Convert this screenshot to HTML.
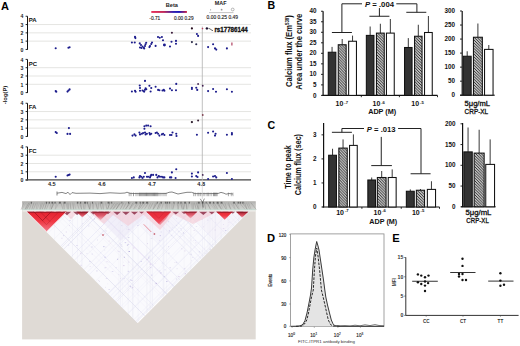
<!DOCTYPE html>
<html><head><meta charset="utf-8"><style>
html,body{margin:0;padding:0;background:#fff;overflow:hidden;width:520px;height:346px;}
svg{display:block;font-family:"Liberation Sans", sans-serif;}
</style></head><body>
<svg width="520" height="346" viewBox="0 0 520 346">
<rect width="520" height="346" fill="#fff"/>
<text x="0.9" y="9.6" font-size="11" font-weight="bold" text-anchor="start" fill="#000"  style="">A</text>
<line x1="28" y1="41.150000000000006" x2="251" y2="41.150000000000006" stroke="#e2e2df" stroke-width="0.9" />
<line x1="28" y1="32.85" x2="251" y2="32.85" stroke="#e2e2df" stroke-width="0.9" />
<line x1="28" y1="24.55" x2="251" y2="24.55" stroke="#e2e2df" stroke-width="0.9" />
<line x1="27.5" y1="16.25" x2="27.5" y2="49.75" stroke="#111" stroke-width="1" />
<line x1="25.6" y1="49.45" x2="27.5" y2="49.45" stroke="#111" stroke-width="0.9" />
<text x="23.4" y="51.650000000000006" font-size="5.2" font-weight="bold" text-anchor="end" fill="#222"  style="">0</text>
<line x1="25.6" y1="41.150000000000006" x2="27.5" y2="41.150000000000006" stroke="#111" stroke-width="0.9" />
<text x="23.4" y="43.35000000000001" font-size="5.2" font-weight="bold" text-anchor="end" fill="#222"  style="">1</text>
<line x1="25.6" y1="32.85" x2="27.5" y2="32.85" stroke="#111" stroke-width="0.9" />
<text x="23.4" y="35.050000000000004" font-size="5.2" font-weight="bold" text-anchor="end" fill="#222"  style="">2</text>
<line x1="25.6" y1="24.55" x2="27.5" y2="24.55" stroke="#111" stroke-width="0.9" />
<text x="23.4" y="26.75" font-size="5.2" font-weight="bold" text-anchor="end" fill="#222"  style="">3</text>
<line x1="25.6" y1="16.25" x2="27.5" y2="16.25" stroke="#111" stroke-width="0.9" />
<text x="23.4" y="18.45" font-size="5.2" font-weight="bold" text-anchor="end" fill="#222"  style="">4</text>
<text x="28.7" y="22.45" font-size="6.0" font-weight="bold" text-anchor="start" fill="#111"  style="">PA</text>
<line x1="28" y1="84.3" x2="251" y2="84.3" stroke="#e2e2df" stroke-width="0.9" />
<line x1="28" y1="76.0" x2="251" y2="76.0" stroke="#e2e2df" stroke-width="0.9" />
<line x1="28" y1="67.69999999999999" x2="251" y2="67.69999999999999" stroke="#e2e2df" stroke-width="0.9" />
<line x1="27.5" y1="59.4" x2="27.5" y2="92.89999999999999" stroke="#111" stroke-width="1" />
<line x1="25.6" y1="92.6" x2="27.5" y2="92.6" stroke="#111" stroke-width="0.9" />
<text x="23.4" y="94.8" font-size="5.2" font-weight="bold" text-anchor="end" fill="#222"  style="">0</text>
<line x1="25.6" y1="84.3" x2="27.5" y2="84.3" stroke="#111" stroke-width="0.9" />
<text x="23.4" y="86.5" font-size="5.2" font-weight="bold" text-anchor="end" fill="#222"  style="">1</text>
<line x1="25.6" y1="76.0" x2="27.5" y2="76.0" stroke="#111" stroke-width="0.9" />
<text x="23.4" y="78.2" font-size="5.2" font-weight="bold" text-anchor="end" fill="#222"  style="">2</text>
<line x1="25.6" y1="67.69999999999999" x2="27.5" y2="67.69999999999999" stroke="#111" stroke-width="0.9" />
<text x="23.4" y="69.89999999999999" font-size="5.2" font-weight="bold" text-anchor="end" fill="#222"  style="">3</text>
<line x1="25.6" y1="59.39999999999999" x2="27.5" y2="59.39999999999999" stroke="#111" stroke-width="0.9" />
<text x="23.4" y="61.599999999999994" font-size="5.2" font-weight="bold" text-anchor="end" fill="#222"  style="">4</text>
<text x="28.7" y="65.6" font-size="6.0" font-weight="bold" text-anchor="start" fill="#111"  style="">PC</text>
<line x1="28" y1="128.14999999999998" x2="251" y2="128.14999999999998" stroke="#e2e2df" stroke-width="0.9" />
<line x1="28" y1="119.85" x2="251" y2="119.85" stroke="#e2e2df" stroke-width="0.9" />
<line x1="28" y1="111.54999999999998" x2="251" y2="111.54999999999998" stroke="#e2e2df" stroke-width="0.9" />
<line x1="27.5" y1="103.25" x2="27.5" y2="136.75" stroke="#111" stroke-width="1" />
<line x1="25.6" y1="136.45" x2="27.5" y2="136.45" stroke="#111" stroke-width="0.9" />
<text x="23.4" y="138.64999999999998" font-size="5.2" font-weight="bold" text-anchor="end" fill="#222"  style="">0</text>
<line x1="25.6" y1="128.14999999999998" x2="27.5" y2="128.14999999999998" stroke="#111" stroke-width="0.9" />
<text x="23.4" y="130.34999999999997" font-size="5.2" font-weight="bold" text-anchor="end" fill="#222"  style="">1</text>
<line x1="25.6" y1="119.85" x2="27.5" y2="119.85" stroke="#111" stroke-width="0.9" />
<text x="23.4" y="122.05" font-size="5.2" font-weight="bold" text-anchor="end" fill="#222"  style="">2</text>
<line x1="25.6" y1="111.54999999999998" x2="27.5" y2="111.54999999999998" stroke="#111" stroke-width="0.9" />
<text x="23.4" y="113.74999999999999" font-size="5.2" font-weight="bold" text-anchor="end" fill="#222"  style="">3</text>
<line x1="25.6" y1="103.24999999999999" x2="27.5" y2="103.24999999999999" stroke="#111" stroke-width="0.9" />
<text x="23.4" y="105.44999999999999" font-size="5.2" font-weight="bold" text-anchor="end" fill="#222"  style="">4</text>
<text x="28.7" y="109.45" font-size="6.0" font-weight="bold" text-anchor="start" fill="#111"  style="">FA</text>
<line x1="28" y1="171.8" x2="251" y2="171.8" stroke="#e2e2df" stroke-width="0.9" />
<line x1="28" y1="163.50000000000003" x2="251" y2="163.50000000000003" stroke="#e2e2df" stroke-width="0.9" />
<line x1="28" y1="155.20000000000002" x2="251" y2="155.20000000000002" stroke="#e2e2df" stroke-width="0.9" />
<line x1="27.5" y1="146.9" x2="27.5" y2="180.40000000000003" stroke="#111" stroke-width="1" />
<line x1="25.6" y1="180.10000000000002" x2="27.5" y2="180.10000000000002" stroke="#111" stroke-width="0.9" />
<text x="23.4" y="182.3" font-size="5.2" font-weight="bold" text-anchor="end" fill="#222"  style="">0</text>
<line x1="25.6" y1="171.8" x2="27.5" y2="171.8" stroke="#111" stroke-width="0.9" />
<text x="23.4" y="174.0" font-size="5.2" font-weight="bold" text-anchor="end" fill="#222"  style="">1</text>
<line x1="25.6" y1="163.50000000000003" x2="27.5" y2="163.50000000000003" stroke="#111" stroke-width="0.9" />
<text x="23.4" y="165.70000000000002" font-size="5.2" font-weight="bold" text-anchor="end" fill="#222"  style="">2</text>
<line x1="25.6" y1="155.20000000000002" x2="27.5" y2="155.20000000000002" stroke="#111" stroke-width="0.9" />
<text x="23.4" y="157.4" font-size="5.2" font-weight="bold" text-anchor="end" fill="#222"  style="">3</text>
<line x1="25.6" y1="146.90000000000003" x2="27.5" y2="146.90000000000003" stroke="#111" stroke-width="0.9" />
<text x="23.4" y="149.10000000000002" font-size="5.2" font-weight="bold" text-anchor="end" fill="#222"  style="">4</text>
<text x="28.7" y="153.1" font-size="6.0" font-weight="bold" text-anchor="start" fill="#111"  style="">FC</text>
<line x1="25.6" y1="179.9" x2="251" y2="179.9" stroke="#444" stroke-width="1.4" />
<text x="51.8" y="186.2" font-size="5.6" font-weight="bold" text-anchor="middle" fill="#222"  style="">4.5</text>
<text x="101.8" y="186.2" font-size="5.6" font-weight="bold" text-anchor="middle" fill="#222"  style="">4.6</text>
<text x="152" y="186.2" font-size="5.6" font-weight="bold" text-anchor="middle" fill="#222"  style="">4.7</text>
<text x="201.2" y="186.2" font-size="5.6" font-weight="bold" text-anchor="middle" fill="#222"  style="">4.8</text>
<line x1="202.3" y1="26.5" x2="202.3" y2="180" stroke="#b0b0b0" stroke-width="0.8" />
<text transform="translate(6.6,95) rotate(-90)" font-size="6.2" font-weight="bold" text-anchor="middle" fill="#222" textLength="18.5" lengthAdjust="spacingAndGlyphs">-log(P)</text>
<text x="171.8" y="6.9" font-size="5.6" font-weight="bold" text-anchor="middle" fill="#222"  style="">Beta</text>
<defs><linearGradient id="gb" x1="0" x2="1" y1="0" y2="0"><stop offset="0" stop-color="#e8305a"/><stop offset="0.35" stop-color="#c02858"/><stop offset="0.62" stop-color="#3020b0"/><stop offset="0.78" stop-color="#1818b8"/><stop offset="0.9" stop-color="#7a1a78"/><stop offset="1" stop-color="#d02040"/></linearGradient></defs>
<rect x="151.3" y="11" width="35.6" height="1.9" fill="url(#gb)" stroke="none" stroke-width="1" />
<text x="149.3" y="20.4" font-size="4.8" font-weight="normal" text-anchor="start" fill="#222" stroke="#222" stroke-width="0.12" style="">-0.71</text>
<text x="174" y="20.4" font-size="4.8" font-weight="normal" text-anchor="start" fill="#222" textLength="19.6" lengthAdjust="spacingAndGlyphs" stroke="#222" stroke-width="0.12" style="">0.00 0.29</text>
<text x="220.7" y="5.4" font-size="5.4" font-weight="bold" text-anchor="middle" fill="#222"  style="">MAF</text>
<circle cx="210.6" cy="9.8" r="0.6" fill="#999" />
<circle cx="221.6" cy="9.7" r="0.9" fill="#999" />
<circle cx="232.7" cy="9.5" r="1.4" fill="none" stroke="#888" stroke-width="0.6"/>
<line x1="209" y1="12.6" x2="233.5" y2="12.6" stroke="#aaa" stroke-width="0.7" />
<text x="206.6" y="19.3" font-size="4.8" font-weight="normal" text-anchor="start" fill="#222" textLength="31.4" lengthAdjust="spacingAndGlyphs" stroke="#222" stroke-width="0.12" style="">0.00 0.25 0.49</text>
<text x="214.4" y="32.1" font-size="6.6" font-weight="bold" text-anchor="start" fill="#111" textLength="33.4" lengthAdjust="spacingAndGlyphs" stroke="#111" stroke-width="0.3" style="">rs17786144</text>
<path d="M208.5,28.4 L210.5,29 L211.5,30.2 L213,30.6" stroke="#222" stroke-width="0.7" fill="none"/>
<circle cx="55.7" cy="48.3" r="1.05" fill="#1c1c8c" />
<circle cx="68.4" cy="47.8" r="1.05" fill="#1c1c8c" />
<circle cx="69.6" cy="47.2" r="1.05" fill="#1c1c8c" />
<circle cx="131.9" cy="42.5" r="1.05" fill="#1c1c8c" />
<circle cx="134.75" cy="42.5" r="1.05" fill="#1c1c8c" />
<circle cx="135" cy="36.9" r="1.05" fill="#1c1c8c" />
<circle cx="135.4" cy="38.1" r="1.05" fill="#1c1c8c" />
<circle cx="139.75" cy="43.4" r="1.05" fill="#1c1c8c" />
<circle cx="140" cy="47.5" r="1.05" fill="#1c1c8c" />
<circle cx="141.5" cy="48" r="1.05" fill="#1c1c8c" />
<circle cx="142.5" cy="46.5" r="1.05" fill="#1c1c8c" />
<circle cx="143.8" cy="47.8" r="1.05" fill="#1c1c8c" />
<circle cx="145" cy="46" r="1.05" fill="#1c1c8c" />
<circle cx="145.5" cy="44.3" r="1.05" fill="#1c1c8c" />
<circle cx="146.2" cy="42.8" r="1.05" fill="#1c1c8c" />
<circle cx="144.2" cy="48.5" r="1.05" fill="#1c1c8c" />
<circle cx="141" cy="45" r="1.05" fill="#1c1c8c" />
<circle cx="149.4" cy="47.1" r="1.05" fill="#1c1c8c" />
<circle cx="150" cy="46" r="1.05" fill="#1c1c8c" />
<circle cx="151.25" cy="44" r="1.05" fill="#1c1c8c" />
<circle cx="152" cy="42.5" r="1.05" fill="#1c1c8c" />
<circle cx="155.6" cy="45.9" r="1.05" fill="#1c1c8c" />
<circle cx="158" cy="37" r="1.05" fill="#1c1c8c" />
<circle cx="159.75" cy="37.75" r="1.05" fill="#1c1c8c" />
<circle cx="161.9" cy="37" r="1.05" fill="#1c1c8c" />
<circle cx="163" cy="40.25" r="1.05" fill="#1c1c8c" />
<circle cx="164.4" cy="45" r="1.05" fill="#1c1c8c" />
<circle cx="170" cy="46.5" r="1.05" fill="#1c1c8c" />
<circle cx="171.5" cy="41.75" r="1.05" fill="#1c1c8c" />
<circle cx="176" cy="40.9" r="1.05" fill="#1c1c8c" />
<circle cx="176" cy="43.75" r="1.05" fill="#1c1c8c" />
<circle cx="196.9" cy="34" r="1.05" fill="#1c1c8c" />
<circle cx="198.1" cy="35.9" r="1.05" fill="#1c1c8c" />
<circle cx="208.1" cy="47.1" r="1.05" fill="#1c1c8c" />
<circle cx="213.1" cy="44.25" r="1.05" fill="#1c1c8c" />
<circle cx="215" cy="48.4" r="1.05" fill="#1c1c8c" />
<circle cx="216.25" cy="49.6" r="1.05" fill="#1c1c8c" />
<circle cx="226.9" cy="48.4" r="1.05" fill="#1c1c8c" />
<circle cx="55.7" cy="91.1" r="1.05" fill="#1c1c8c" />
<circle cx="56.3" cy="91.8" r="1.05" fill="#1c1c8c" />
<circle cx="67.5" cy="91.6" r="1.05" fill="#1c1c8c" />
<circle cx="68.5" cy="90.5" r="1.05" fill="#1c1c8c" />
<circle cx="69.6" cy="89.4" r="1.05" fill="#1c1c8c" />
<circle cx="131.9" cy="91.5" r="1.05" fill="#1c1c8c" />
<circle cx="135" cy="90.75" r="1.05" fill="#1c1c8c" />
<circle cx="135.6" cy="91.75" r="1.05" fill="#1c1c8c" />
<circle cx="139.75" cy="85.5" r="1.05" fill="#1c1c8c" />
<circle cx="140" cy="88" r="1.05" fill="#1c1c8c" />
<circle cx="140" cy="90.75" r="1.05" fill="#1c1c8c" />
<circle cx="142.5" cy="90.5" r="1.05" fill="#1c1c8c" />
<circle cx="143.8" cy="91.2" r="1.05" fill="#1c1c8c" />
<circle cx="145" cy="89.8" r="1.05" fill="#1c1c8c" />
<circle cx="145.6" cy="88.3" r="1.05" fill="#1c1c8c" />
<circle cx="146.3" cy="89.2" r="1.05" fill="#1c1c8c" />
<circle cx="144.2" cy="91.6" r="1.05" fill="#1c1c8c" />
<circle cx="145" cy="80.9" r="1.05" fill="#1c1c8c" />
<circle cx="149.4" cy="85.75" r="1.05" fill="#1c1c8c" />
<circle cx="151.25" cy="88" r="1.05" fill="#1c1c8c" />
<circle cx="150.6" cy="91.5" r="1.05" fill="#1c1c8c" />
<circle cx="155.6" cy="86.75" r="1.05" fill="#1c1c8c" />
<circle cx="158.1" cy="89.9" r="1.05" fill="#1c1c8c" />
<circle cx="159.4" cy="90.25" r="1.05" fill="#1c1c8c" />
<circle cx="162.5" cy="90.5" r="1.05" fill="#1c1c8c" />
<circle cx="163.75" cy="89.9" r="1.05" fill="#1c1c8c" />
<circle cx="164.4" cy="90.75" r="1.05" fill="#1c1c8c" />
<circle cx="170" cy="88.6" r="1.05" fill="#1c1c8c" />
<circle cx="171.9" cy="90.25" r="1.05" fill="#1c1c8c" />
<circle cx="176.25" cy="83.9" r="1.05" fill="#1c1c8c" />
<circle cx="176" cy="90.25" r="1.05" fill="#1c1c8c" />
<circle cx="191.9" cy="87.75" r="1.05" fill="#1c1c8c" />
<circle cx="191.9" cy="89" r="1.05" fill="#1c1c8c" />
<circle cx="196.25" cy="87.75" r="1.05" fill="#1c1c8c" />
<circle cx="197.25" cy="89.9" r="1.05" fill="#1c1c8c" />
<circle cx="208.1" cy="91.1" r="1.05" fill="#1c1c8c" />
<circle cx="213.1" cy="89" r="1.05" fill="#1c1c8c" />
<circle cx="216" cy="91.75" r="1.05" fill="#1c1c8c" />
<circle cx="226.9" cy="89.25" r="1.05" fill="#1c1c8c" />
<circle cx="231.9" cy="91.75" r="1.05" fill="#1c1c8c" />
<circle cx="55.7" cy="132.1" r="1.05" fill="#1c1c8c" />
<circle cx="56.8" cy="133" r="1.05" fill="#1c1c8c" />
<circle cx="68.9" cy="128.1" r="1.05" fill="#1c1c8c" />
<circle cx="67.5" cy="133.9" r="1.05" fill="#1c1c8c" />
<circle cx="70.1" cy="133.9" r="1.05" fill="#1c1c8c" />
<circle cx="144.4" cy="126.25" r="1.05" fill="#1c1c8c" />
<circle cx="146.25" cy="125.6" r="1.05" fill="#1c1c8c" />
<circle cx="148.1" cy="125.6" r="1.05" fill="#1c1c8c" />
<circle cx="150.6" cy="126.25" r="1.05" fill="#1c1c8c" />
<circle cx="144.4" cy="128.75" r="1.05" fill="#1c1c8c" />
<circle cx="132.5" cy="135.6" r="1.05" fill="#1c1c8c" />
<circle cx="134.4" cy="134.4" r="1.05" fill="#1c1c8c" />
<circle cx="135.6" cy="135.6" r="1.05" fill="#1c1c8c" />
<circle cx="139.4" cy="132.5" r="1.05" fill="#1c1c8c" />
<circle cx="140" cy="134.4" r="1.05" fill="#1c1c8c" />
<circle cx="141.9" cy="133.75" r="1.05" fill="#1c1c8c" />
<circle cx="143.1" cy="133.1" r="1.05" fill="#1c1c8c" />
<circle cx="145" cy="132.5" r="1.05" fill="#1c1c8c" />
<circle cx="145.6" cy="134.4" r="1.05" fill="#1c1c8c" />
<circle cx="146.9" cy="133.75" r="1.05" fill="#1c1c8c" />
<circle cx="149.4" cy="133" r="1.05" fill="#1c1c8c" />
<circle cx="150" cy="134.4" r="1.05" fill="#1c1c8c" />
<circle cx="151.25" cy="133.75" r="1.05" fill="#1c1c8c" />
<circle cx="155.6" cy="133" r="1.05" fill="#1c1c8c" />
<circle cx="156.9" cy="132.5" r="1.05" fill="#1c1c8c" />
<circle cx="158.1" cy="133.75" r="1.05" fill="#1c1c8c" />
<circle cx="159.4" cy="135.6" r="1.05" fill="#1c1c8c" />
<circle cx="161.9" cy="134.4" r="1.05" fill="#1c1c8c" />
<circle cx="163.1" cy="133.75" r="1.05" fill="#1c1c8c" />
<circle cx="164.4" cy="135" r="1.05" fill="#1c1c8c" />
<circle cx="170" cy="135" r="1.05" fill="#1c1c8c" />
<circle cx="171.5" cy="135" r="1.05" fill="#1c1c8c" />
<circle cx="172.5" cy="132.5" r="1.05" fill="#1c1c8c" />
<circle cx="176.25" cy="133.75" r="1.05" fill="#1c1c8c" />
<circle cx="176.5" cy="136" r="1.05" fill="#1c1c8c" />
<circle cx="196.9" cy="134.75" r="1.05" fill="#1c1c8c" />
<circle cx="208.1" cy="132.75" r="1.05" fill="#1c1c8c" />
<circle cx="213.1" cy="131.5" r="1.05" fill="#1c1c8c" />
<circle cx="215.6" cy="133.75" r="1.05" fill="#1c1c8c" />
<circle cx="215" cy="135.6" r="1.05" fill="#1c1c8c" />
<circle cx="226.9" cy="134.75" r="1.05" fill="#1c1c8c" />
<circle cx="231.9" cy="133.1" r="1.05" fill="#1c1c8c" />
<circle cx="231.9" cy="134.4" r="1.05" fill="#1c1c8c" />
<circle cx="55.7" cy="176.7" r="1.05" fill="#1c1c8c" />
<circle cx="67.5" cy="175.5" r="1.05" fill="#1c1c8c" />
<circle cx="68.5" cy="175" r="1.05" fill="#1c1c8c" />
<circle cx="69.6" cy="174.6" r="1.05" fill="#1c1c8c" />
<circle cx="131.9" cy="178" r="1.05" fill="#1c1c8c" />
<circle cx="133.75" cy="177.4" r="1.05" fill="#1c1c8c" />
<circle cx="139.4" cy="177.4" r="1.05" fill="#1c1c8c" />
<circle cx="140" cy="176.1" r="1.05" fill="#1c1c8c" />
<circle cx="141.25" cy="176.75" r="1.05" fill="#1c1c8c" />
<circle cx="142.5" cy="178" r="1.05" fill="#1c1c8c" />
<circle cx="143.75" cy="176.75" r="1.05" fill="#1c1c8c" />
<circle cx="145" cy="173" r="1.05" fill="#1c1c8c" />
<circle cx="146.9" cy="176.75" r="1.05" fill="#1c1c8c" />
<circle cx="148.1" cy="176.75" r="1.05" fill="#1c1c8c" />
<circle cx="150" cy="177.4" r="1.05" fill="#1c1c8c" />
<circle cx="150.6" cy="176.1" r="1.05" fill="#1c1c8c" />
<circle cx="151.25" cy="174.9" r="1.05" fill="#1c1c8c" />
<circle cx="153.1" cy="174.9" r="1.05" fill="#1c1c8c" />
<circle cx="156.25" cy="174.9" r="1.05" fill="#1c1c8c" />
<circle cx="157.5" cy="177.4" r="1.05" fill="#1c1c8c" />
<circle cx="158.75" cy="176.1" r="1.05" fill="#1c1c8c" />
<circle cx="160" cy="176.75" r="1.05" fill="#1c1c8c" />
<circle cx="161.9" cy="176.75" r="1.05" fill="#1c1c8c" />
<circle cx="163.1" cy="177.4" r="1.05" fill="#1c1c8c" />
<circle cx="164.4" cy="177.4" r="1.05" fill="#1c1c8c" />
<circle cx="170" cy="177.4" r="1.05" fill="#1c1c8c" />
<circle cx="171.25" cy="177.4" r="1.05" fill="#1c1c8c" />
<circle cx="171.9" cy="172.4" r="1.05" fill="#1c1c8c" />
<circle cx="176.25" cy="169.25" r="1.05" fill="#1c1c8c" />
<circle cx="175.6" cy="178" r="1.05" fill="#1c1c8c" />
<circle cx="191.9" cy="173.6" r="1.05" fill="#1c1c8c" />
<circle cx="191.9" cy="176.5" r="1.05" fill="#1c1c8c" />
<circle cx="196.25" cy="176.1" r="1.05" fill="#1c1c8c" />
<circle cx="197.5" cy="177" r="1.05" fill="#1c1c8c" />
<circle cx="198.1" cy="172.4" r="1.05" fill="#1c1c8c" />
<circle cx="208.1" cy="179" r="1.05" fill="#1c1c8c" />
<circle cx="213.1" cy="176.5" r="1.05" fill="#1c1c8c" />
<circle cx="215" cy="176.1" r="1.05" fill="#1c1c8c" />
<circle cx="216.25" cy="177.4" r="1.05" fill="#1c1c8c" />
<circle cx="226.9" cy="173" r="1.05" fill="#1c1c8c" />
<circle cx="231.9" cy="179" r="1.05" fill="#1c1c8c" />
<circle cx="171.9" cy="32.75" r="1.05" fill="#3a1a3a" />
<circle cx="191.9" cy="42.1" r="1.05" fill="#2a2a48" />
<circle cx="196.25" cy="44.25" r="1.05" fill="#2a2a50" />
<circle cx="164.4" cy="45" r="1.4" fill="#1c1c8c" />
<circle cx="191.9" cy="28.4" r="1.1" fill="#2a1020" />
<circle cx="206.9" cy="28.4" r="1.2" fill="#1a1030" />
<circle cx="202.5" cy="28.6" r="0.8" fill="#c04060" />
<rect x="231.3" y="42.5" width="1.2" height="3" fill="#b04060" stroke="none" stroke-width="1" />
<circle cx="202.75" cy="85.75" r="0.9" fill="#402050" />
<circle cx="198.1" cy="84" r="0.9" fill="#402050" />
<circle cx="202.75" cy="115" r="0.9" fill="#804050" />
<circle cx="191.9" cy="122.1" r="1.15" fill="#2a1a2a" />
<circle cx="198.1" cy="120.6" r="1.0" fill="#3a2438" />
<circle cx="202.75" cy="174.9" r="0.9" fill="#402050" />
<rect x="22.1" y="201.2" width="233.6" height="138.2" fill="#dfdad5" stroke="none" stroke-width="1" />
<defs><linearGradient id="gs" x1="0" y1="0" x2="0" y2="1"><stop offset="0" stop-color="#aeaeac"/><stop offset="0.3" stop-color="#bebebc"/><stop offset="0.7" stop-color="#cacac7"/><stop offset="1" stop-color="#d0d8d2"/></linearGradient></defs>
<rect x="22.1" y="201.4" width="233.6" height="8.6" fill="url(#gs)" stroke="none" stroke-width="1" />
<line x1="24.0" y1="202.6" x2="21.0" y2="209.6" stroke="#8a8a88" stroke-width="0.4"/>
<line x1="25.9" y1="202.6" x2="22.0" y2="209.6" stroke="#a4a4a2" stroke-width="0.4"/>
<line x1="27.3" y1="202.6" x2="25.1" y2="209.6" stroke="#a4a4a2" stroke-width="0.4"/>
<line x1="29.0" y1="202.6" x2="25.2" y2="209.6" stroke="#747472" stroke-width="0.4"/>
<line x1="30.4" y1="202.6" x2="26.6" y2="209.6" stroke="#747472" stroke-width="0.4"/>
<line x1="31.7" y1="202.6" x2="29.4" y2="209.6" stroke="#8a8a88" stroke-width="0.4"/>
<line x1="34.0" y1="202.6" x2="31.7" y2="209.6" stroke="#7e7e7c" stroke-width="0.4"/>
<line x1="36.2" y1="202.6" x2="33.4" y2="209.6" stroke="#8a8a88" stroke-width="0.4"/>
<line x1="37.5" y1="202.6" x2="36.1" y2="209.6" stroke="#989896" stroke-width="0.4"/>
<line x1="39.5" y1="202.6" x2="37.1" y2="209.6" stroke="#a4a4a2" stroke-width="0.4"/>
<line x1="41.2" y1="202.6" x2="39.7" y2="209.6" stroke="#8a8a88" stroke-width="0.4"/>
<line x1="42.7" y1="202.6" x2="40.4" y2="209.6" stroke="#8a8a88" stroke-width="0.4"/>
<line x1="44.5" y1="202.6" x2="42.2" y2="209.6" stroke="#7e7e7c" stroke-width="0.4"/>
<line x1="46.7" y1="202.6" x2="44.5" y2="209.6" stroke="#747472" stroke-width="0.4"/>
<line x1="49.0" y1="202.6" x2="46.3" y2="209.6" stroke="#989896" stroke-width="0.4"/>
<line x1="51.0" y1="202.6" x2="49.8" y2="209.6" stroke="#989896" stroke-width="0.4"/>
<line x1="52.8" y1="202.6" x2="51.1" y2="209.6" stroke="#8a8a88" stroke-width="0.4"/>
<line x1="54.2" y1="202.6" x2="51.1" y2="209.6" stroke="#747472" stroke-width="0.4"/>
<line x1="56.8" y1="202.6" x2="55.0" y2="209.6" stroke="#989896" stroke-width="0.4"/>
<line x1="59.0" y1="202.6" x2="55.2" y2="209.6" stroke="#a4a4a2" stroke-width="0.4"/>
<line x1="60.9" y1="202.6" x2="63.0" y2="209.6" stroke="#8a8a88" stroke-width="0.4"/>
<line x1="63.6" y1="202.6" x2="64.3" y2="209.6" stroke="#7e7e7c" stroke-width="0.4"/>
<line x1="66.1" y1="202.6" x2="67.4" y2="209.6" stroke="#989896" stroke-width="0.4"/>
<line x1="67.9" y1="202.6" x2="68.3" y2="209.6" stroke="#747472" stroke-width="0.4"/>
<line x1="70.1" y1="202.6" x2="70.9" y2="209.6" stroke="#7e7e7c" stroke-width="0.4"/>
<line x1="72.8" y1="202.6" x2="73.7" y2="209.6" stroke="#7e7e7c" stroke-width="0.4"/>
<line x1="74.2" y1="202.6" x2="76.0" y2="209.6" stroke="#a4a4a2" stroke-width="0.4"/>
<line x1="77.0" y1="202.6" x2="79.2" y2="209.6" stroke="#989896" stroke-width="0.4"/>
<line x1="79.3" y1="202.6" x2="81.9" y2="209.6" stroke="#989896" stroke-width="0.4"/>
<line x1="80.7" y1="202.6" x2="81.5" y2="209.6" stroke="#8a8a88" stroke-width="0.4"/>
<line x1="82.9" y1="202.6" x2="83.9" y2="209.6" stroke="#8a8a88" stroke-width="0.4"/>
<line x1="85.3" y1="202.6" x2="84.8" y2="209.6" stroke="#8a8a88" stroke-width="0.4"/>
<line x1="87.2" y1="202.6" x2="89.9" y2="209.6" stroke="#747472" stroke-width="0.4"/>
<line x1="88.6" y1="202.6" x2="89.4" y2="209.6" stroke="#a4a4a2" stroke-width="0.4"/>
<line x1="90.4" y1="202.6" x2="89.9" y2="209.6" stroke="#747472" stroke-width="0.4"/>
<line x1="93.0" y1="202.6" x2="93.1" y2="209.6" stroke="#747472" stroke-width="0.4"/>
<line x1="95.7" y1="202.6" x2="97.5" y2="209.6" stroke="#747472" stroke-width="0.4"/>
<line x1="98.5" y1="202.6" x2="98.1" y2="209.6" stroke="#8a8a88" stroke-width="0.4"/>
<line x1="100.0" y1="202.6" x2="101.6" y2="209.6" stroke="#7e7e7c" stroke-width="0.4"/>
<line x1="102.0" y1="202.6" x2="103.4" y2="209.6" stroke="#989896" stroke-width="0.4"/>
<line x1="103.8" y1="202.6" x2="103.3" y2="209.6" stroke="#a4a4a2" stroke-width="0.4"/>
<line x1="105.6" y1="202.6" x2="106.9" y2="209.6" stroke="#8a8a88" stroke-width="0.4"/>
<line x1="107.9" y1="202.6" x2="109.0" y2="209.6" stroke="#a4a4a2" stroke-width="0.4"/>
<line x1="110.2" y1="202.6" x2="107.2" y2="209.6" stroke="#747472" stroke-width="0.4"/>
<line x1="112.9" y1="202.6" x2="110.0" y2="209.6" stroke="#a4a4a2" stroke-width="0.4"/>
<line x1="114.8" y1="202.6" x2="110.4" y2="209.6" stroke="#7e7e7c" stroke-width="0.4"/>
<line x1="116.8" y1="202.6" x2="112.4" y2="209.6" stroke="#8a8a88" stroke-width="0.4"/>
<line x1="118.2" y1="202.6" x2="113.0" y2="209.6" stroke="#8a8a88" stroke-width="0.4"/>
<line x1="119.7" y1="202.6" x2="116.1" y2="209.6" stroke="#7e7e7c" stroke-width="0.4"/>
<line x1="121.0" y1="202.6" x2="115.6" y2="209.6" stroke="#7e7e7c" stroke-width="0.4"/>
<line x1="123.7" y1="202.6" x2="120.1" y2="209.6" stroke="#7e7e7c" stroke-width="0.4"/>
<line x1="126.3" y1="202.6" x2="122.7" y2="209.6" stroke="#8a8a88" stroke-width="0.4"/>
<line x1="128.5" y1="202.6" x2="126.4" y2="209.6" stroke="#a4a4a2" stroke-width="0.4"/>
<line x1="130.4" y1="202.6" x2="124.9" y2="209.6" stroke="#747472" stroke-width="0.4"/>
<line x1="133.2" y1="202.6" x2="129.0" y2="209.6" stroke="#747472" stroke-width="0.4"/>
<line x1="134.9" y1="202.6" x2="129.5" y2="209.6" stroke="#989896" stroke-width="0.4"/>
<line x1="137.4" y1="202.6" x2="133.3" y2="209.6" stroke="#8a8a88" stroke-width="0.4"/>
<line x1="139.4" y1="202.6" x2="134.2" y2="209.6" stroke="#a4a4a2" stroke-width="0.4"/>
<line x1="141.3" y1="202.6" x2="138.0" y2="209.6" stroke="#7e7e7c" stroke-width="0.4"/>
<line x1="143.7" y1="202.6" x2="138.9" y2="209.6" stroke="#7e7e7c" stroke-width="0.4"/>
<line x1="146.1" y1="202.6" x2="141.1" y2="209.6" stroke="#989896" stroke-width="0.4"/>
<line x1="148.7" y1="202.6" x2="144.1" y2="209.6" stroke="#8a8a88" stroke-width="0.4"/>
<line x1="150.8" y1="202.6" x2="147.9" y2="209.6" stroke="#989896" stroke-width="0.4"/>
<line x1="153.1" y1="202.6" x2="149.5" y2="209.6" stroke="#8a8a88" stroke-width="0.4"/>
<line x1="155.6" y1="202.6" x2="152.8" y2="209.6" stroke="#8a8a88" stroke-width="0.4"/>
<line x1="157.2" y1="202.6" x2="153.1" y2="209.6" stroke="#7e7e7c" stroke-width="0.4"/>
<line x1="160.0" y1="202.6" x2="157.1" y2="209.6" stroke="#747472" stroke-width="0.4"/>
<line x1="161.6" y1="202.6" x2="158.4" y2="209.6" stroke="#989896" stroke-width="0.4"/>
<line x1="163.6" y1="202.6" x2="161.4" y2="209.6" stroke="#989896" stroke-width="0.4"/>
<line x1="166.4" y1="202.6" x2="165.8" y2="209.6" stroke="#8a8a88" stroke-width="0.4"/>
<line x1="167.8" y1="202.6" x2="167.7" y2="209.6" stroke="#989896" stroke-width="0.4"/>
<line x1="169.4" y1="202.6" x2="169.9" y2="209.6" stroke="#a4a4a2" stroke-width="0.4"/>
<line x1="172.0" y1="202.6" x2="171.9" y2="209.6" stroke="#989896" stroke-width="0.4"/>
<line x1="174.5" y1="202.6" x2="172.8" y2="209.6" stroke="#7e7e7c" stroke-width="0.4"/>
<line x1="177.1" y1="202.6" x2="178.3" y2="209.6" stroke="#8a8a88" stroke-width="0.4"/>
<line x1="179.2" y1="202.6" x2="177.9" y2="209.6" stroke="#989896" stroke-width="0.4"/>
<line x1="180.6" y1="202.6" x2="182.4" y2="209.6" stroke="#747472" stroke-width="0.4"/>
<line x1="182.6" y1="202.6" x2="183.6" y2="209.6" stroke="#7e7e7c" stroke-width="0.4"/>
<line x1="185.0" y1="202.6" x2="183.6" y2="209.6" stroke="#8a8a88" stroke-width="0.4"/>
<line x1="186.3" y1="202.6" x2="186.7" y2="209.6" stroke="#747472" stroke-width="0.4"/>
<line x1="188.8" y1="202.6" x2="187.4" y2="209.6" stroke="#a4a4a2" stroke-width="0.4"/>
<line x1="191.6" y1="202.6" x2="192.2" y2="209.6" stroke="#989896" stroke-width="0.4"/>
<line x1="193.1" y1="202.6" x2="193.3" y2="209.6" stroke="#7e7e7c" stroke-width="0.4"/>
<line x1="194.4" y1="202.6" x2="196.3" y2="209.6" stroke="#7e7e7c" stroke-width="0.4"/>
<line x1="196.5" y1="202.6" x2="198.3" y2="209.6" stroke="#747472" stroke-width="0.4"/>
<line x1="199.3" y1="202.6" x2="198.1" y2="209.6" stroke="#8a8a88" stroke-width="0.4"/>
<line x1="200.7" y1="202.6" x2="199.5" y2="209.6" stroke="#a4a4a2" stroke-width="0.4"/>
<line x1="202.3" y1="202.6" x2="202.7" y2="209.6" stroke="#989896" stroke-width="0.4"/>
<line x1="204.4" y1="202.6" x2="205.8" y2="209.6" stroke="#7e7e7c" stroke-width="0.4"/>
<line x1="207.1" y1="202.6" x2="210.5" y2="209.6" stroke="#747472" stroke-width="0.4"/>
<line x1="209.4" y1="202.6" x2="214.7" y2="209.6" stroke="#a4a4a2" stroke-width="0.4"/>
<line x1="211.3" y1="202.6" x2="217.0" y2="209.6" stroke="#a4a4a2" stroke-width="0.4"/>
<line x1="212.8" y1="202.6" x2="215.4" y2="209.6" stroke="#a4a4a2" stroke-width="0.4"/>
<line x1="214.1" y1="202.6" x2="217.9" y2="209.6" stroke="#8a8a88" stroke-width="0.4"/>
<line x1="216.4" y1="202.6" x2="221.5" y2="209.6" stroke="#8a8a88" stroke-width="0.4"/>
<line x1="217.9" y1="202.6" x2="221.8" y2="209.6" stroke="#7e7e7c" stroke-width="0.4"/>
<line x1="220.1" y1="202.6" x2="223.4" y2="209.6" stroke="#a4a4a2" stroke-width="0.4"/>
<line x1="222.1" y1="202.6" x2="226.1" y2="209.6" stroke="#7e7e7c" stroke-width="0.4"/>
<line x1="224.8" y1="202.6" x2="227.0" y2="209.6" stroke="#8a8a88" stroke-width="0.4"/>
<line x1="226.5" y1="202.6" x2="231.6" y2="209.6" stroke="#a4a4a2" stroke-width="0.4"/>
<line x1="228.5" y1="202.6" x2="230.6" y2="209.6" stroke="#7e7e7c" stroke-width="0.4"/>
<line x1="230.4" y1="202.6" x2="234.9" y2="209.6" stroke="#a4a4a2" stroke-width="0.4"/>
<line x1="232.6" y1="202.6" x2="235.4" y2="209.6" stroke="#989896" stroke-width="0.4"/>
<line x1="234.6" y1="202.6" x2="238.8" y2="209.6" stroke="#747472" stroke-width="0.4"/>
<line x1="236.7" y1="202.6" x2="239.7" y2="209.6" stroke="#a4a4a2" stroke-width="0.4"/>
<line x1="239.3" y1="202.6" x2="245.1" y2="209.6" stroke="#989896" stroke-width="0.4"/>
<line x1="242.0" y1="202.6" x2="247.5" y2="209.6" stroke="#8a8a88" stroke-width="0.4"/>
<line x1="244.5" y1="202.6" x2="247.1" y2="209.6" stroke="#7e7e7c" stroke-width="0.4"/>
<line x1="246.4" y1="202.6" x2="249.7" y2="209.6" stroke="#8a8a88" stroke-width="0.4"/>
<line x1="248.4" y1="202.6" x2="251.2" y2="209.6" stroke="#989896" stroke-width="0.4"/>
<line x1="250.8" y1="202.6" x2="256.4" y2="209.6" stroke="#8a8a88" stroke-width="0.4"/>
<rect x="30.9" y="201.8" width="1.0" height="1.8" fill="#333" opacity="0.6"/>
<rect x="45.8" y="201.8" width="1.3" height="1.8" fill="#333" opacity="0.6"/>
<rect x="48.7" y="201.8" width="1.2" height="1.8" fill="#333" opacity="0.6"/>
<rect x="51.5" y="201.8" width="1.6" height="1.8" fill="#333" opacity="0.6"/>
<rect x="54.5" y="201.8" width="1.2" height="1.8" fill="#333" opacity="0.6"/>
<rect x="58.9" y="201.8" width="1.9" height="1.8" fill="#333" opacity="0.6"/>
<rect x="63.7" y="201.8" width="1.9" height="1.8" fill="#333" opacity="0.6"/>
<rect x="76.9" y="201.8" width="1.4" height="1.8" fill="#333" opacity="0.6"/>
<rect x="80.1" y="201.8" width="1.1" height="1.8" fill="#333" opacity="0.6"/>
<rect x="84.1" y="201.8" width="1.9" height="1.8" fill="#333" opacity="0.6"/>
<rect x="86.8" y="201.8" width="0.9" height="1.8" fill="#333" opacity="0.6"/>
<rect x="92.0" y="201.8" width="0.9" height="1.8" fill="#333" opacity="0.6"/>
<rect x="100.6" y="201.8" width="1.7" height="1.8" fill="#333" opacity="0.6"/>
<rect x="107.6" y="201.8" width="1.9" height="1.8" fill="#333" opacity="0.6"/>
<rect x="111.2" y="201.8" width="1.0" height="1.8" fill="#333" opacity="0.6"/>
<rect x="121.5" y="201.8" width="0.8" height="1.8" fill="#333" opacity="0.6"/>
<rect x="128.0" y="201.8" width="1.3" height="1.8" fill="#333" opacity="0.6"/>
<rect x="135.3" y="201.8" width="1.9" height="1.8" fill="#333" opacity="0.6"/>
<rect x="139.7" y="201.8" width="1.1" height="1.8" fill="#333" opacity="0.6"/>
<rect x="142.3" y="201.8" width="1.9" height="1.8" fill="#333" opacity="0.6"/>
<rect x="146.1" y="201.8" width="2.0" height="1.8" fill="#333" opacity="0.6"/>
<rect x="156.8" y="201.8" width="0.9" height="1.8" fill="#333" opacity="0.6"/>
<rect x="160.5" y="201.8" width="1.4" height="1.8" fill="#333" opacity="0.6"/>
<rect x="164.9" y="201.8" width="1.6" height="1.8" fill="#333" opacity="0.6"/>
<rect x="167.0" y="201.8" width="1.1" height="1.8" fill="#333" opacity="0.6"/>
<rect x="169.0" y="201.8" width="1.2" height="1.8" fill="#333" opacity="0.6"/>
<rect x="173.5" y="201.8" width="0.8" height="1.8" fill="#333" opacity="0.6"/>
<rect x="177.7" y="201.8" width="1.0" height="1.8" fill="#333" opacity="0.6"/>
<rect x="180.5" y="201.8" width="1.1" height="1.8" fill="#333" opacity="0.6"/>
<rect x="184.2" y="201.8" width="1.7" height="1.8" fill="#333" opacity="0.6"/>
<rect x="188.7" y="201.8" width="1.3" height="1.8" fill="#333" opacity="0.6"/>
<rect x="197.8" y="201.8" width="1.9" height="1.8" fill="#333" opacity="0.6"/>
<rect x="201.8" y="201.8" width="1.7" height="1.8" fill="#333" opacity="0.6"/>
<rect x="205.6" y="201.8" width="1.1" height="1.8" fill="#333" opacity="0.6"/>
<rect x="209.1" y="201.8" width="1.8" height="1.8" fill="#333" opacity="0.6"/>
<rect x="212.9" y="201.8" width="1.3" height="1.8" fill="#333" opacity="0.6"/>
<rect x="216.7" y="201.8" width="1.9" height="1.8" fill="#333" opacity="0.6"/>
<rect x="220.6" y="201.8" width="1.8" height="1.8" fill="#333" opacity="0.6"/>
<rect x="233.2" y="201.8" width="1.6" height="1.8" fill="#333" opacity="0.6"/>
<rect x="237.6" y="201.8" width="1.3" height="1.8" fill="#333" opacity="0.6"/>
<rect x="239.7" y="201.8" width="1.4" height="1.8" fill="#333" opacity="0.6"/>
<rect x="242.3" y="201.8" width="1.3" height="1.8" fill="#333" opacity="0.6"/>
<line x1="22.5" y1="209.9" x2="255.7" y2="209.9" stroke="#c4dcd2" stroke-width="0.9" />
<line x1="22.5" y1="210.9" x2="255.7" y2="210.9" stroke="#f6f6f4" stroke-width="1.0" />
<path d="M200.3,198.8 L202.6,202.6 L204.4,198.6 M202.6,202.6 L203.2,207.5" stroke="#444" stroke-width="0.6" fill="none"/>
<polygon points="26,211.5 249.3,211.5 137.65,323.15" fill="#fafafd"/>
<clipPath id="tri"><polygon points="26,211.5 249.3,211.5 137.65,323.15"/></clipPath>
<g clip-path="url(#tri)">
<line x1="78.8" y1="211.5" x2="198.8" y2="331.5" stroke="#d0c8e8" stroke-width="0.5" opacity="0.24"/>
<line x1="229.3" y1="211.5" x2="109.3" y2="331.5" stroke="#d8d8ee" stroke-width="0.5" opacity="0.39"/>
<line x1="40.5" y1="211.5" x2="160.5" y2="331.5" stroke="#c4c4e0" stroke-width="0.5" opacity="0.47"/>
<line x1="130.2" y1="211.5" x2="10.2" y2="331.5" stroke="#d0c8e8" stroke-width="0.5" opacity="0.27"/>
<line x1="247.0" y1="211.5" x2="367.0" y2="331.5" stroke="#d8d8ee" stroke-width="0.5" opacity="0.36"/>
<line x1="148.0" y1="211.5" x2="28.0" y2="331.5" stroke="#d8d8ee" stroke-width="0.5" opacity="0.39"/>
<line x1="59.4" y1="211.5" x2="179.4" y2="331.5" stroke="#ccccea" stroke-width="0.5" opacity="0.46"/>
<line x1="142.1" y1="211.5" x2="22.1" y2="331.5" stroke="#c4c4e0" stroke-width="0.5" opacity="0.40"/>
<line x1="40.2" y1="211.5" x2="160.2" y2="331.5" stroke="#d0c8e8" stroke-width="0.5" opacity="0.21"/>
<line x1="199.2" y1="211.5" x2="79.2" y2="331.5" stroke="#b8b8dc" stroke-width="0.5" opacity="0.34"/>
<line x1="185.6" y1="211.5" x2="305.6" y2="331.5" stroke="#d8d8ee" stroke-width="0.5" opacity="0.41"/>
<line x1="230.5" y1="211.5" x2="110.5" y2="331.5" stroke="#d8d8ee" stroke-width="0.5" opacity="0.42"/>
<line x1="154.1" y1="211.5" x2="274.1" y2="331.5" stroke="#ccccea" stroke-width="0.5" opacity="0.46"/>
<line x1="47.6" y1="211.5" x2="-72.4" y2="331.5" stroke="#ccccea" stroke-width="0.5" opacity="0.35"/>
<line x1="83.3" y1="211.5" x2="203.3" y2="331.5" stroke="#d8d8ee" stroke-width="0.5" opacity="0.43"/>
<line x1="215.9" y1="211.5" x2="95.9" y2="331.5" stroke="#d8d8ee" stroke-width="0.5" opacity="0.35"/>
<line x1="111.7" y1="211.5" x2="231.7" y2="331.5" stroke="#b8b8dc" stroke-width="0.5" opacity="0.36"/>
<line x1="116.5" y1="211.5" x2="-3.5" y2="331.5" stroke="#ccccea" stroke-width="0.5" opacity="0.47"/>
<line x1="177.4" y1="211.5" x2="297.4" y2="331.5" stroke="#c4c4e0" stroke-width="0.5" opacity="0.46"/>
<line x1="246.0" y1="211.5" x2="126.0" y2="331.5" stroke="#ccccea" stroke-width="0.5" opacity="0.41"/>
<line x1="98.5" y1="211.5" x2="218.5" y2="331.5" stroke="#d0c8e8" stroke-width="0.5" opacity="0.47"/>
<line x1="152.3" y1="211.5" x2="32.3" y2="331.5" stroke="#ccccea" stroke-width="0.5" opacity="0.39"/>
<line x1="245.4" y1="211.5" x2="365.4" y2="331.5" stroke="#b8b8dc" stroke-width="0.5" opacity="0.29"/>
<line x1="40.1" y1="211.5" x2="-79.9" y2="331.5" stroke="#d8d8ee" stroke-width="0.5" opacity="0.23"/>
<line x1="203.7" y1="211.5" x2="323.7" y2="331.5" stroke="#d8d8ee" stroke-width="0.5" opacity="0.47"/>
<line x1="30.5" y1="211.5" x2="-89.5" y2="331.5" stroke="#d8d8ee" stroke-width="0.5" opacity="0.43"/>
<line x1="219.8" y1="211.5" x2="339.8" y2="331.5" stroke="#c4c4e0" stroke-width="0.5" opacity="0.38"/>
<line x1="195.1" y1="211.5" x2="75.1" y2="331.5" stroke="#d8d8ee" stroke-width="0.5" opacity="0.42"/>
<line x1="99.5" y1="211.5" x2="219.5" y2="331.5" stroke="#b8b8dc" stroke-width="0.5" opacity="0.35"/>
<line x1="247.7" y1="211.5" x2="127.7" y2="331.5" stroke="#b8b8dc" stroke-width="0.5" opacity="0.20"/>
<line x1="50.0" y1="211.5" x2="170.0" y2="331.5" stroke="#d0c8e8" stroke-width="0.5" opacity="0.21"/>
<line x1="69.8" y1="211.5" x2="-50.2" y2="331.5" stroke="#d8d8ee" stroke-width="0.5" opacity="0.29"/>
<line x1="84.5" y1="211.5" x2="204.5" y2="331.5" stroke="#c4c4e0" stroke-width="0.5" opacity="0.49"/>
<line x1="101.4" y1="211.5" x2="-18.6" y2="331.5" stroke="#b8b8dc" stroke-width="0.5" opacity="0.49"/>
<line x1="225.1" y1="211.5" x2="345.1" y2="331.5" stroke="#d8d8ee" stroke-width="0.5" opacity="0.31"/>
<line x1="219.1" y1="211.5" x2="99.1" y2="331.5" stroke="#d8d8ee" stroke-width="0.5" opacity="0.39"/>
<line x1="158.2" y1="211.5" x2="278.2" y2="331.5" stroke="#d0c8e8" stroke-width="0.5" opacity="0.23"/>
<line x1="242.0" y1="211.5" x2="122.0" y2="331.5" stroke="#d0c8e8" stroke-width="0.5" opacity="0.28"/>
<line x1="166.8" y1="211.5" x2="286.8" y2="331.5" stroke="#ccccea" stroke-width="0.5" opacity="0.48"/>
<line x1="123.1" y1="211.5" x2="3.1" y2="331.5" stroke="#b8b8dc" stroke-width="0.5" opacity="0.36"/>
<line x1="147.8" y1="211.5" x2="267.8" y2="331.5" stroke="#c4c4e0" stroke-width="0.5" opacity="0.44"/>
<line x1="245.2" y1="211.5" x2="125.2" y2="331.5" stroke="#b8b8dc" stroke-width="0.5" opacity="0.21"/>
<line x1="162.7" y1="211.5" x2="282.7" y2="331.5" stroke="#ccccea" stroke-width="0.5" opacity="0.22"/>
<line x1="165.3" y1="211.5" x2="45.3" y2="331.5" stroke="#d8d8ee" stroke-width="0.5" opacity="0.31"/>
<line x1="229.6" y1="211.5" x2="349.6" y2="331.5" stroke="#d0c8e8" stroke-width="0.5" opacity="0.41"/>
<line x1="189.8" y1="211.5" x2="69.8" y2="331.5" stroke="#c4c4e0" stroke-width="0.5" opacity="0.38"/>
<line x1="238.0" y1="211.5" x2="358.0" y2="331.5" stroke="#c4c4e0" stroke-width="0.5" opacity="0.49"/>
<line x1="81.7" y1="211.5" x2="-38.3" y2="331.5" stroke="#d8d8ee" stroke-width="0.5" opacity="0.29"/>
<line x1="159.5" y1="211.5" x2="279.5" y2="331.5" stroke="#ccccea" stroke-width="0.5" opacity="0.31"/>
<line x1="95.4" y1="211.5" x2="-24.6" y2="331.5" stroke="#b8b8dc" stroke-width="0.5" opacity="0.45"/>
<line x1="84.6" y1="211.5" x2="204.6" y2="331.5" stroke="#d8d8ee" stroke-width="0.5" opacity="0.23"/>
<line x1="206.5" y1="211.5" x2="86.5" y2="331.5" stroke="#d0c8e8" stroke-width="0.5" opacity="0.41"/>
<line x1="55.2" y1="211.5" x2="175.2" y2="331.5" stroke="#d0c8e8" stroke-width="0.5" opacity="0.27"/>
<line x1="204.4" y1="211.5" x2="84.4" y2="331.5" stroke="#ccccea" stroke-width="0.5" opacity="0.30"/>
<line x1="176.5" y1="211.5" x2="296.5" y2="331.5" stroke="#c4c4e0" stroke-width="0.5" opacity="0.23"/>
<line x1="97.5" y1="211.5" x2="-22.5" y2="331.5" stroke="#b8b8dc" stroke-width="0.5" opacity="0.40"/>
<line x1="75.8" y1="211.5" x2="195.8" y2="331.5" stroke="#ccccea" stroke-width="0.5" opacity="0.22"/>
<line x1="190.7" y1="211.5" x2="70.7" y2="331.5" stroke="#ccccea" stroke-width="0.5" opacity="0.47"/>
<line x1="126.1" y1="211.5" x2="246.1" y2="331.5" stroke="#ccccea" stroke-width="0.5" opacity="0.44"/>
<line x1="33.5" y1="211.5" x2="-86.5" y2="331.5" stroke="#ccccea" stroke-width="0.5" opacity="0.29"/>
<line x1="209.8" y1="211.5" x2="209.8" y2="330" stroke="#dcdcec" stroke-width="0.5" opacity="0.47"/>
<line x1="215.7" y1="211.5" x2="215.7" y2="330" stroke="#dcdcec" stroke-width="0.5" opacity="0.40"/>
<line x1="208.0" y1="211.5" x2="208.0" y2="330" stroke="#dcdcec" stroke-width="0.5" opacity="0.33"/>
<line x1="163.2" y1="211.5" x2="163.2" y2="330" stroke="#dcdcec" stroke-width="0.5" opacity="0.48"/>
<line x1="120.6" y1="211.5" x2="120.6" y2="330" stroke="#dcdcec" stroke-width="0.5" opacity="0.46"/>
<line x1="212.7" y1="211.5" x2="212.7" y2="330" stroke="#dcdcec" stroke-width="0.5" opacity="0.44"/>
<line x1="166.3" y1="211.5" x2="166.3" y2="330" stroke="#dcdcec" stroke-width="0.5" opacity="0.39"/>
<line x1="152.2" y1="211.5" x2="152.2" y2="330" stroke="#dcdcec" stroke-width="0.5" opacity="0.31"/>
<line x1="118.9" y1="211.5" x2="118.9" y2="330" stroke="#dcdcec" stroke-width="0.5" opacity="0.36"/>
<line x1="132.6" y1="211.5" x2="132.6" y2="330" stroke="#dcdcec" stroke-width="0.5" opacity="0.55"/>
<line x1="163.9" y1="211.5" x2="163.9" y2="330" stroke="#dcdcec" stroke-width="0.5" opacity="0.45"/>
<line x1="150.2" y1="211.5" x2="150.2" y2="330" stroke="#dcdcec" stroke-width="0.5" opacity="0.60"/>
<line x1="184.2" y1="211.5" x2="184.2" y2="330" stroke="#dcdcec" stroke-width="0.5" opacity="0.31"/>
<line x1="128.2" y1="211.5" x2="128.2" y2="330" stroke="#dcdcec" stroke-width="0.5" opacity="0.53"/>
<line x1="190.8" y1="211.5" x2="190.8" y2="330" stroke="#dcdcec" stroke-width="0.5" opacity="0.59"/>
<line x1="146.9" y1="211.5" x2="146.9" y2="330" stroke="#dcdcec" stroke-width="0.5" opacity="0.57"/>
<line x1="215.2" y1="211.5" x2="215.2" y2="330" stroke="#dcdcec" stroke-width="0.5" opacity="0.56"/>
<line x1="238.8" y1="211.5" x2="238.8" y2="330" stroke="#dcdcec" stroke-width="0.5" opacity="0.34"/>
<line x1="82.6" y1="211.5" x2="82.6" y2="330" stroke="#dcdcec" stroke-width="0.5" opacity="0.31"/>
<line x1="202.6" y1="211.5" x2="202.6" y2="330" stroke="#dcdcec" stroke-width="0.5" opacity="0.45"/>
<line x1="72.7" y1="211.5" x2="72.7" y2="330" stroke="#dcdcec" stroke-width="0.5" opacity="0.57"/>
<line x1="122.4" y1="211.5" x2="122.4" y2="330" stroke="#dcdcec" stroke-width="0.5" opacity="0.31"/>
<line x1="133.4" y1="211.5" x2="133.4" y2="330" stroke="#dcdcec" stroke-width="0.5" opacity="0.34"/>
<line x1="138.2" y1="211.5" x2="138.2" y2="330" stroke="#dcdcec" stroke-width="0.5" opacity="0.37"/>
<line x1="34.3" y1="211.5" x2="34.3" y2="330" stroke="#dcdcec" stroke-width="0.5" opacity="0.46"/>
<line x1="41.4" y1="211.5" x2="41.4" y2="330" stroke="#dcdcec" stroke-width="0.5" opacity="0.57"/>
<line x1="54.4" y1="211.5" x2="54.4" y2="330" stroke="#dcdcec" stroke-width="0.5" opacity="0.34"/>
<line x1="239.0" y1="211.5" x2="239.0" y2="330" stroke="#dcdcec" stroke-width="0.5" opacity="0.46"/>
<line x1="204.5" y1="211.5" x2="204.5" y2="330" stroke="#dcdcec" stroke-width="0.5" opacity="0.32"/>
<line x1="77.5" y1="211.5" x2="77.5" y2="330" stroke="#dcdcec" stroke-width="0.5" opacity="0.34"/>
<line x1="220.8" y1="211.5" x2="220.8" y2="330" stroke="#dcdcec" stroke-width="0.5" opacity="0.34"/>
<line x1="81.5" y1="211.5" x2="81.5" y2="330" stroke="#dcdcec" stroke-width="0.5" opacity="0.38"/>
<line x1="221.3" y1="211.5" x2="221.3" y2="330" stroke="#dcdcec" stroke-width="0.5" opacity="0.34"/>
<line x1="228.0" y1="211.5" x2="228.0" y2="330" stroke="#dcdcec" stroke-width="0.5" opacity="0.45"/>
<line x1="152.7" y1="211.5" x2="152.7" y2="330" stroke="#dcdcec" stroke-width="0.5" opacity="0.42"/>
<rect x="89.7" y="266.4" width="1.0" height="0.5" fill="#c0a8d8" opacity="0.62"/>
<rect x="205.4" y="252.9" width="1.4" height="0.4" fill="#b8b0e0" opacity="0.67"/>
<rect x="137.1" y="225.0" width="1.5" height="0.8" fill="#b8b0e0" opacity="0.47"/>
<rect x="133.2" y="247.6" width="1.1" height="0.8" fill="#c0a8d8" opacity="0.56"/>
<rect x="228.8" y="215.8" width="0.6" height="1.0" fill="#a8a0d8" opacity="0.48"/>
<rect x="159.4" y="240.1" width="0.7" height="0.8" fill="#9890d0" opacity="0.49"/>
<rect x="207.6" y="219.7" width="0.7" height="1.0" fill="#b8b0e0" opacity="0.66"/>
<rect x="164.5" y="269.5" width="1.1" height="0.7" fill="#a8a0d8" opacity="0.46"/>
<rect x="121.4" y="225.1" width="0.8" height="1.0" fill="#9890d0" opacity="0.50"/>
<rect x="117.2" y="250.8" width="0.5" height="0.5" fill="#c0a8d8" opacity="0.59"/>
<rect x="148.5" y="255.8" width="1.1" height="0.6" fill="#b8b0e0" opacity="0.69"/>
<rect x="80.3" y="264.9" width="1.4" height="0.6" fill="#c0a8d8" opacity="0.60"/>
<rect x="91.3" y="246.6" width="1.3" height="0.8" fill="#b8b0e0" opacity="0.66"/>
<rect x="166.3" y="281.1" width="1.1" height="0.8" fill="#9890d0" opacity="0.67"/>
<rect x="104.3" y="256.7" width="1.4" height="0.9" fill="#9890d0" opacity="0.49"/>
<rect x="210.7" y="218.0" width="1.2" height="0.4" fill="#c0a8d8" opacity="0.40"/>
<rect x="131.0" y="280.1" width="1.6" height="0.8" fill="#b8b0e0" opacity="0.49"/>
<rect x="105.4" y="286.9" width="0.5" height="0.5" fill="#9890d0" opacity="0.64"/>
<rect x="168.2" y="246.4" width="0.8" height="0.7" fill="#9890d0" opacity="0.41"/>
<rect x="198.3" y="214.8" width="1.5" height="0.4" fill="#b8b0e0" opacity="0.54"/>
<rect x="175.9" y="278.7" width="0.8" height="0.6" fill="#9890d0" opacity="0.68"/>
<rect x="223.0" y="224.1" width="0.9" height="0.5" fill="#a8a0d8" opacity="0.56"/>
<rect x="201.5" y="219.5" width="1.2" height="0.5" fill="#a8a0d8" opacity="0.52"/>
<rect x="118.4" y="251.5" width="1.2" height="0.5" fill="#b8b0e0" opacity="0.64"/>
<rect x="96.3" y="270.6" width="1.2" height="0.7" fill="#a8a0d8" opacity="0.60"/>
<rect x="129.8" y="279.7" width="1.3" height="0.5" fill="#9890d0" opacity="0.58"/>
<rect x="105.5" y="267.0" width="1.3" height="0.5" fill="#c0a8d8" opacity="0.36"/>
<rect x="148.2" y="257.5" width="1.1" height="0.8" fill="#a8a0d8" opacity="0.69"/>
<rect x="115.8" y="267.2" width="0.6" height="0.9" fill="#b8b0e0" opacity="0.69"/>
<rect x="123.9" y="238.2" width="0.6" height="0.4" fill="#9890d0" opacity="0.33"/>
<rect x="140.7" y="261.2" width="1.2" height="0.8" fill="#a8a0d8" opacity="0.49"/>
<rect x="152.3" y="280.6" width="0.7" height="0.4" fill="#a8a0d8" opacity="0.47"/>
<rect x="104.5" y="267.5" width="1.3" height="0.7" fill="#9890d0" opacity="0.39"/>
<rect x="129.4" y="251.0" width="0.5" height="0.5" fill="#a8a0d8" opacity="0.45"/>
<rect x="168.8" y="230.4" width="1.2" height="0.9" fill="#9890d0" opacity="0.57"/>
<rect x="182.9" y="232.6" width="0.9" height="0.8" fill="#9890d0" opacity="0.63"/>
<rect x="61.1" y="237.8" width="1.5" height="0.8" fill="#c0a8d8" opacity="0.34"/>
<rect x="91.6" y="253.7" width="1.3" height="0.7" fill="#9890d0" opacity="0.34"/>
<rect x="97.0" y="239.5" width="0.8" height="1.0" fill="#b8b0e0" opacity="0.43"/>
<rect x="105.8" y="278.2" width="1.5" height="0.7" fill="#b8b0e0" opacity="0.40"/>
<rect x="183.9" y="268.4" width="1.5" height="0.7" fill="#b8b0e0" opacity="0.47"/>
<rect x="171.1" y="235.3" width="1.2" height="0.8" fill="#b8b0e0" opacity="0.34"/>
<rect x="123.1" y="261.8" width="0.5" height="0.7" fill="#c0a8d8" opacity="0.32"/>
<rect x="169.4" y="267.2" width="1.6" height="1.0" fill="#b8b0e0" opacity="0.36"/>
<rect x="126.7" y="214.2" width="0.6" height="0.9" fill="#b8b0e0" opacity="0.63"/>
<rect x="155.3" y="217.7" width="1.0" height="0.9" fill="#b8b0e0" opacity="0.40"/>
<rect x="163.5" y="276.6" width="1.5" height="0.4" fill="#9890d0" opacity="0.53"/>
<rect x="93.9" y="218.5" width="1.0" height="0.9" fill="#9890d0" opacity="0.44"/>
<rect x="108.6" y="240.8" width="1.2" height="0.4" fill="#c0a8d8" opacity="0.62"/>
<rect x="180.3" y="228.2" width="1.2" height="0.5" fill="#a8a0d8" opacity="0.41"/>
<rect x="70.6" y="216.8" width="0.8" height="0.9" fill="#9890d0" opacity="0.46"/>
<rect x="65.8" y="231.7" width="1.1" height="0.6" fill="#c0a8d8" opacity="0.58"/>
<rect x="191.0" y="253.9" width="0.9" height="0.5" fill="#a8a0d8" opacity="0.50"/>
<rect x="191.0" y="260.1" width="0.5" height="0.6" fill="#b8b0e0" opacity="0.49"/>
<rect x="63.4" y="235.2" width="0.7" height="0.9" fill="#a8a0d8" opacity="0.66"/>
<rect x="156.0" y="283.0" width="0.9" height="1.0" fill="#c0a8d8" opacity="0.67"/>
<rect x="202.9" y="214.9" width="0.7" height="0.6" fill="#c0a8d8" opacity="0.31"/>
<rect x="127.7" y="270.9" width="1.5" height="0.7" fill="#b8b0e0" opacity="0.65"/>
<rect x="159.9" y="272.9" width="1.5" height="0.5" fill="#c0a8d8" opacity="0.54"/>
<rect x="123.3" y="265.1" width="1.1" height="1.0" fill="#c0a8d8" opacity="0.66"/>
<rect x="193.5" y="230.2" width="1.5" height="0.7" fill="#c0a8d8" opacity="0.35"/>
<rect x="103.2" y="246.2" width="1.3" height="0.9" fill="#9890d0" opacity="0.56"/>
<rect x="105.5" y="246.7" width="0.7" height="0.7" fill="#9890d0" opacity="0.32"/>
<rect x="214.6" y="229.6" width="1.1" height="0.9" fill="#c0a8d8" opacity="0.59"/>
<rect x="127.8" y="243.9" width="1.4" height="0.9" fill="#a8a0d8" opacity="0.42"/>
<rect x="209.8" y="248.8" width="0.7" height="0.8" fill="#9890d0" opacity="0.62"/>
<rect x="146.9" y="218.2" width="1.5" height="0.5" fill="#c0a8d8" opacity="0.43"/>
<rect x="123.8" y="256.8" width="1.2" height="0.8" fill="#9890d0" opacity="0.65"/>
<rect x="195.2" y="242.5" width="1.3" height="0.7" fill="#c0a8d8" opacity="0.35"/>
<rect x="120.0" y="278.5" width="0.8" height="0.5" fill="#c0a8d8" opacity="0.60"/>
<rect x="228.3" y="221.9" width="1.2" height="0.7" fill="#c0a8d8" opacity="0.35"/>
<rect x="198.8" y="251.6" width="1.3" height="0.6" fill="#a8a0d8" opacity="0.56"/>
<rect x="126.3" y="228.7" width="0.8" height="0.6" fill="#b8b0e0" opacity="0.63"/>
<rect x="168.3" y="252.8" width="1.2" height="0.7" fill="#b8b0e0" opacity="0.50"/>
<rect x="174.5" y="262.3" width="0.7" height="0.6" fill="#c0a8d8" opacity="0.48"/>
<rect x="176.6" y="268.6" width="1.0" height="0.5" fill="#b8b0e0" opacity="0.64"/>
<rect x="194.8" y="240.2" width="0.7" height="0.9" fill="#b8b0e0" opacity="0.43"/>
<rect x="119.1" y="230.4" width="1.0" height="0.5" fill="#a8a0d8" opacity="0.30"/>
<rect x="88.5" y="225.6" width="0.7" height="0.8" fill="#a8a0d8" opacity="0.55"/>
<rect x="82.0" y="223.4" width="1.1" height="0.5" fill="#b8b0e0" opacity="0.40"/>
<rect x="167.9" y="221.3" width="1.0" height="0.9" fill="#b8b0e0" opacity="0.67"/>
<rect x="131.9" y="286.9" width="1.5" height="0.7" fill="#c0a8d8" opacity="0.53"/>
<rect x="68.4" y="244.7" width="0.7" height="1.0" fill="#9890d0" opacity="0.33"/>
<rect x="189.5" y="254.3" width="0.8" height="0.6" fill="#b8b0e0" opacity="0.50"/>
<rect x="107.5" y="283.6" width="0.6" height="0.6" fill="#c0a8d8" opacity="0.34"/>
<rect x="118.5" y="274.3" width="0.8" height="0.6" fill="#b8b0e0" opacity="0.41"/>
<rect x="99.2" y="281.1" width="0.6" height="0.8" fill="#b8b0e0" opacity="0.54"/>
<rect x="138.3" y="272.6" width="1.0" height="0.5" fill="#a8a0d8" opacity="0.31"/>
<rect x="98.6" y="280.0" width="0.5" height="0.9" fill="#c0a8d8" opacity="0.64"/>
<rect x="123.8" y="278.3" width="0.8" height="0.8" fill="#b8b0e0" opacity="0.63"/>
<rect x="184.5" y="250.5" width="0.9" height="0.9" fill="#c0a8d8" opacity="0.56"/>
<rect x="111.8" y="271.0" width="1.5" height="0.5" fill="#a8a0d8" opacity="0.70"/>
<rect x="119.0" y="242.9" width="1.3" height="0.4" fill="#b8b0e0" opacity="0.53"/>
<rect x="224.9" y="230.1" width="1.4" height="0.9" fill="#b8b0e0" opacity="0.66"/>
<rect x="149.9" y="267.3" width="1.6" height="0.8" fill="#b8b0e0" opacity="0.47"/>
<rect x="179.5" y="236.4" width="1.1" height="0.4" fill="#b8b0e0" opacity="0.59"/>
<rect x="195.8" y="226.6" width="1.3" height="0.4" fill="#a8a0d8" opacity="0.55"/>
<rect x="80.0" y="252.8" width="1.2" height="0.9" fill="#c0a8d8" opacity="0.42"/>
<rect x="159.7" y="235.2" width="1.3" height="0.9" fill="#a8a0d8" opacity="0.69"/>
<rect x="106.3" y="261.5" width="1.5" height="0.6" fill="#c0a8d8" opacity="0.44"/>
<rect x="155.4" y="263.5" width="0.7" height="0.5" fill="#c0a8d8" opacity="0.34"/>
<rect x="203.0" y="226.3" width="0.5" height="0.9" fill="#c0a8d8" opacity="0.58"/>
<rect x="150.8" y="217.2" width="0.7" height="0.7" fill="#a8a0d8" opacity="0.52"/>
<rect x="171.9" y="226.8" width="0.6" height="1.0" fill="#b8b0e0" opacity="0.42"/>
<rect x="105.5" y="230.5" width="0.9" height="0.9" fill="#9890d0" opacity="0.42"/>
<rect x="227.0" y="217.1" width="0.9" height="0.6" fill="#c0a8d8" opacity="0.47"/>
<rect x="184.7" y="273.6" width="1.3" height="0.7" fill="#b8b0e0" opacity="0.32"/>
<rect x="128.5" y="251.0" width="1.5" height="1.0" fill="#9890d0" opacity="0.63"/>
<rect x="189.9" y="214.1" width="1.5" height="1.0" fill="#a8a0d8" opacity="0.68"/>
<rect x="76.2" y="245.0" width="1.4" height="0.7" fill="#9890d0" opacity="0.41"/>
<rect x="161.8" y="262.6" width="0.8" height="1.0" fill="#b8b0e0" opacity="0.36"/>
<rect x="160.5" y="272.5" width="1.1" height="0.5" fill="#9890d0" opacity="0.51"/>
<rect x="69.2" y="220.0" width="1.5" height="0.7" fill="#b8b0e0" opacity="0.49"/>
<rect x="152.8" y="232.4" width="0.8" height="0.5" fill="#9890d0" opacity="0.53"/>
<rect x="117.0" y="258.8" width="1.1" height="0.9" fill="#9890d0" opacity="0.55"/>
<rect x="155.1" y="282.8" width="1.5" height="0.5" fill="#a8a0d8" opacity="0.63"/>
<rect x="146.6" y="259.4" width="0.8" height="0.6" fill="#c0a8d8" opacity="0.65"/>
<rect x="175.8" y="261.8" width="1.4" height="0.7" fill="#a8a0d8" opacity="0.33"/>
<rect x="151.1" y="274.7" width="1.2" height="0.8" fill="#b8b0e0" opacity="0.70"/>
<rect x="212.5" y="244.1" width="1.0" height="0.4" fill="#b8b0e0" opacity="0.42"/>
<rect x="127.8" y="229.0" width="1.5" height="0.8" fill="#c0a8d8" opacity="0.64"/>
<rect x="148.5" y="258.6" width="0.6" height="0.6" fill="#b8b0e0" opacity="0.45"/>
<rect x="121.4" y="246.5" width="0.8" height="0.5" fill="#a8a0d8" opacity="0.66"/>
<rect x="215.5" y="221.9" width="0.7" height="0.7" fill="#b8b0e0" opacity="0.43"/>
<rect x="154.8" y="283.8" width="0.5" height="0.4" fill="#a8a0d8" opacity="0.57"/>
<rect x="127.8" y="237.0" width="1.6" height="0.5" fill="#a8a0d8" opacity="0.67"/>
<rect x="128.4" y="261.6" width="0.9" height="1.0" fill="#b8b0e0" opacity="0.44"/>
<rect x="181.0" y="229.5" width="0.6" height="1.0" fill="#b8b0e0" opacity="0.32"/>
<rect x="120.7" y="244.5" width="0.8" height="0.9" fill="#9890d0" opacity="0.67"/>
<rect x="86.5" y="253.2" width="0.9" height="0.5" fill="#a8a0d8" opacity="0.46"/>
<rect x="178.1" y="276.0" width="1.5" height="0.9" fill="#c0a8d8" opacity="0.46"/>
<rect x="176.0" y="218.1" width="0.8" height="0.6" fill="#c0a8d8" opacity="0.53"/>
<rect x="160.7" y="231.7" width="0.9" height="0.6" fill="#9890d0" opacity="0.68"/>
<rect x="222.8" y="228.4" width="1.4" height="0.6" fill="#c0a8d8" opacity="0.63"/>
<rect x="183.2" y="216.0" width="1.6" height="0.4" fill="#a8a0d8" opacity="0.35"/>
<rect x="149.6" y="263.7" width="1.4" height="1.0" fill="#c0a8d8" opacity="0.43"/>
<rect x="100.9" y="233.7" width="0.7" height="0.8" fill="#b8b0e0" opacity="0.33"/>
<rect x="126.9" y="244.7" width="1.0" height="0.9" fill="#9890d0" opacity="0.60"/>
<rect x="131.8" y="287.6" width="0.7" height="0.9" fill="#9890d0" opacity="0.39"/>
<rect x="207.2" y="215.4" width="0.6" height="0.8" fill="#b8b0e0" opacity="0.54"/>
<rect x="192.4" y="257.1" width="0.8" height="0.5" fill="#9890d0" opacity="0.53"/>
<rect x="108.5" y="289.1" width="1.3" height="0.9" fill="#a8a0d8" opacity="0.40"/>
<rect x="147.3" y="243.1" width="0.6" height="1.0" fill="#c0a8d8" opacity="0.60"/>
<rect x="109.0" y="215.5" width="0.5" height="0.7" fill="#b8b0e0" opacity="0.68"/>
<rect x="129.7" y="285.8" width="1.3" height="0.9" fill="#9890d0" opacity="0.53"/>
<rect x="108.6" y="261.8" width="0.8" height="0.6" fill="#a8a0d8" opacity="0.37"/>
<rect x="89.1" y="260.9" width="1.4" height="1.0" fill="#b8b0e0" opacity="0.40"/>
<rect x="184.9" y="273.4" width="0.9" height="0.7" fill="#c0a8d8" opacity="0.66"/>
<rect x="193.0" y="239.9" width="0.7" height="0.5" fill="#c0a8d8" opacity="0.49"/>
<rect x="176.6" y="262.7" width="0.5" height="0.4" fill="#b8b0e0" opacity="0.69"/>
<rect x="229.2" y="219.5" width="0.8" height="0.4" fill="#b8b0e0" opacity="0.56"/>
<rect x="178.4" y="231.0" width="0.7" height="0.6" fill="#b8b0e0" opacity="0.49"/>
<rect x="69.2" y="225.0" width="0.8" height="0.8" fill="#c0a8d8" opacity="0.41"/>
<rect x="124.7" y="242.2" width="1.5" height="0.9" fill="#b8b0e0" opacity="0.65"/>
<rect x="104.2" y="233.7" width="0.7" height="0.8" fill="#9890d0" opacity="0.44"/>
<rect x="159.2" y="270.5" width="1.1" height="0.9" fill="#a8a0d8" opacity="0.36"/>
<rect x="181.1" y="248.5" width="1.4" height="0.7" fill="#b8b0e0" opacity="0.47"/>
<rect x="176.2" y="225.2" width="0.9" height="0.5" fill="#a8a0d8" opacity="0.52"/>
<rect x="150.7" y="238.2" width="1.5" height="0.6" fill="#9890d0" opacity="0.31"/>
<rect x="104.5" y="249.8" width="0.6" height="0.6" fill="#b8b0e0" opacity="0.59"/>
<polygon points="92,212 150,212 121,241" fill="#e6e2f4" opacity="0.45"/>
<polygon points="128,212 190,212 159,243" fill="#ece8f8" opacity="0.3"/>
<polygon points="186,212 244,212 215,241" fill="#f0e8f4" opacity="0.3"/>
<defs><linearGradient id="rg" x1="0" y1="0" x2="0" y2="1"><stop offset="0" stop-color="#e4202e"/><stop offset="0.5" stop-color="#f03844"/><stop offset="1" stop-color="#f07888"/></linearGradient><linearGradient id="rg2" x1="0" y1="0" x2="0" y2="1"><stop offset="0" stop-color="#a01828"/><stop offset="0.6" stop-color="#d8505e"/><stop offset="1" stop-color="#f0b0c0"/></linearGradient><linearGradient id="rg3" x1="0" y1="0" x2="0" y2="1"><stop offset="0" stop-color="#c03048"/><stop offset="0.5" stop-color="#e06070"/><stop offset="1" stop-color="#f4b8c4"/></linearGradient></defs>
<polygon points="64,211.5 78,211.5 71,219.5" fill="#f4c4d0" opacity="0.55"/>
<polygon points="88,211.5 116,211.5 104,224" fill="#f4c4d0" opacity="0.55"/>
<polygon points="108,211.5 148,211.5 128,226" fill="#f4c4d0" opacity="0.55"/>
<polygon points="168,211.5 218,211.5 193,224" fill="#f4c4d0" opacity="0.55"/>
<polygon points="140,211.5 176,211.5 160,230" fill="#f4c4d0" opacity="0.55"/>
<polygon points="26.5,211.5 34.2,211.5 30.3,214.7" fill="#801a34" opacity="0.75"/>
<polygon points="35.7,211.5 44.0,211.5 39.9,215.0" fill="#801a34" opacity="0.75"/>
<polygon points="45.9,211.5 54.0,211.5 50.0,214.9" fill="#801a34" opacity="0.75"/>
<polygon points="55.9,211.5 61.5,211.5 58.7,213.9" fill="#801a34" opacity="0.75"/>
<polygon points="62.6,211.5 71.4,211.5 67.0,215.2" fill="#801a34" opacity="0.75"/>
<polygon points="72.8,211.5 81.4,211.5 77.1,215.1" fill="#801a34" opacity="0.75"/>
<polygon points="81.9,211.5 89.1,211.5 85.5,214.5" fill="#801a34" opacity="0.75"/>
<polygon points="89.8,211.5 97.2,211.5 93.5,214.6" fill="#801a34" opacity="0.75"/>
<polygon points="98.5,211.5 104.0,211.5 101.2,213.8" fill="#801a34" opacity="0.75"/>
<polygon points="104.7,211.5 111.2,211.5 107.9,214.2" fill="#801a34" opacity="0.75"/>
<polygon points="113.0,211.5 121.2,211.5 117.1,214.9" fill="#801a34" opacity="0.75"/>
<polygon points="121.8,211.5 130.1,211.5 125.9,215.0" fill="#801a34" opacity="0.75"/>
<polygon points="130.6,211.5 138.3,211.5 134.4,214.7" fill="#801a34" opacity="0.75"/>
<polygon points="138.8,211.5 144.3,211.5 141.5,213.8" fill="#801a34" opacity="0.75"/>
<polygon points="146.1,211.5 152.3,211.5 149.2,214.1" fill="#801a34" opacity="0.75"/>
<polygon points="153.0,211.5 161.9,211.5 157.4,215.3" fill="#801a34" opacity="0.75"/>
<polygon points="163.7,211.5 170.2,211.5 166.9,214.2" fill="#801a34" opacity="0.75"/>
<polygon points="172.1,211.5 179.5,211.5 175.8,214.6" fill="#801a34" opacity="0.75"/>
<polygon points="181.0,211.5 187.2,211.5 184.1,214.1" fill="#801a34" opacity="0.75"/>
<polygon points="189.1,211.5 197.0,211.5 193.0,214.8" fill="#801a34" opacity="0.75"/>
<polygon points="198.9,211.5 207.6,211.5 203.3,215.1" fill="#801a34" opacity="0.75"/>
<polygon points="208.4,211.5 215.1,211.5 211.8,214.3" fill="#801a34" opacity="0.75"/>
<polygon points="215.7,211.5 221.7,211.5 218.7,214.0" fill="#801a34" opacity="0.75"/>
<polygon points="222.1,211.5 228.7,211.5 225.4,214.3" fill="#801a34" opacity="0.75"/>
<polygon points="230.0,211.5 235.5,211.5 232.8,213.8" fill="#801a34" opacity="0.75"/>
<polygon points="237.0,211.5 243.7,211.5 240.3,214.3" fill="#801a34" opacity="0.75"/>
<polygon points="26.9,211.5 66.8,211.5 46.849999999999994,231.45" fill="url(#rg)"/>
<polygon points="26.9,211.5 66.8,211.5 65.2,213.1 28.5,213.1" fill="#7a1420" opacity="0.55"/>
<polygon points="76.3,211.5 88.5,211.5 82.4,217.6" fill="url(#rg2)"/>
<polygon points="76.3,211.5 88.5,211.5 86.9,213.1 77.89999999999999,213.1" fill="#7a1420" opacity="0.55"/>
<polygon points="91.9,211.5 109.2,211.5 100.55000000000001,220.15" fill="url(#rg3)"/>
<polygon points="91.9,211.5 109.2,211.5 107.60000000000001,213.1 93.5,213.1" fill="#7a1420" opacity="0.55"/>
<polygon points="146.4,211.5 171.2,211.5 158.8,223.89999999999998" fill="url(#rg)"/>
<polygon points="146.4,211.5 171.2,211.5 169.6,213.1 148.0,213.1" fill="#7a1420" opacity="0.55"/>
<polygon points="183.5,211.5 197.5,211.5 190.5,218.5" fill="url(#rg3)"/>
<polygon points="183.5,211.5 197.5,211.5 195.9,213.1 185.1,213.1" fill="#7a1420" opacity="0.55"/>
<polygon points="216.4,211.5 232.9,211.5 224.65,219.75" fill="url(#rg)"/>
<polygon points="216.4,211.5 232.9,211.5 231.3,213.1 218.0,213.1" fill="#7a1420" opacity="0.55"/>
<polygon points="235.8,211.5 248.5,211.5 242.15,217.85" fill="url(#rg2)"/>
<polygon points="235.8,211.5 248.5,211.5 246.9,213.1 237.4,213.1" fill="#7a1420" opacity="0.55"/>
<polyline points="33.6,211.5 42.5,220.6 51.4,211.5" fill="none" stroke="#8a1018" stroke-width="0.7" opacity="0.85"/>
<polyline points="42.5,220.6 46.5,224.6 59,211.5" fill="none" stroke="#a01820" stroke-width="0.5" opacity="0.6"/>
<polyline points="26.8,211.8 46.6,231.4 66.4,211.8" fill="none" stroke="#f8c4cc" stroke-width="1.0" opacity="0.9"/>
<polyline points="40,211.5 50,221.5" fill="none" stroke="#901520" stroke-width="0.5" opacity="0.7"/>
<polyline points="152,211.5 158.8,218.3 165,211.5" fill="none" stroke="#901520" stroke-width="0.5" opacity="0.7"/>
<polygon points="146.4,211.5 160,225 166,219 171.2,211.5" fill="#e83040" opacity="0.5"/>
<line x1="143.7" y1="224.3" x2="151.3" y2="232" stroke="#e05060" stroke-width="1" opacity="0.6"/>
<circle cx="103" cy="235" r="0.9" fill="#c05060" opacity="0.8"/>
<circle cx="154.4" cy="234" r="0.9" fill="#c05060" opacity="0.8"/>
</g>
<path d="M57,191.5 L57,195.5 M57,193.2 L62,192.4 L66,193.6 L68,192.2 L70,194.6 L72,192.6 L76,193.3 L90,193.1 L100,193.6 L110,192.8 L120,193.3 L125,193.0 L127,192.2 L130,193.4 L140,193.6 L160,193.6 L166,193.5 L169,192.3 L172,192.0 L175,193.0 L178,194.0 L183,193.0 L187,192.3 L191.5,192.3 L195,193.6 L205,193.6 L218,193.5 L221,192.4 L224,193.2 L226,194.2 L229,193.5 L233,194" stroke="#666" stroke-width="0.8" fill="none"/>
<line x1="129.2" y1="192.6" x2="129.2" y2="196.2" stroke="#666" stroke-width="0.5404759107019638" />
<line x1="131" y1="192.6" x2="131" y2="196.2" stroke="#666" stroke-width="0.5619544772160991" />
<line x1="133.5" y1="192.6" x2="133.5" y2="196.2" stroke="#666" stroke-width="0.6348421168047459" />
<line x1="136" y1="192.6" x2="136" y2="196.2" stroke="#666" stroke-width="0.5431300140199546" />
<line x1="138" y1="192.6" x2="138" y2="196.2" stroke="#666" stroke-width="0.5515682546124543" />
<line x1="139.6" y1="192.6" x2="139.6" y2="196.2" stroke="#505050" stroke-width="0.6" />
<line x1="140.75" y1="192.6" x2="140.75" y2="196.2" stroke="#505050" stroke-width="0.6" />
<line x1="141.9" y1="192.6" x2="141.9" y2="196.2" stroke="#505050" stroke-width="0.6" />
<line x1="143.04999999999998" y1="192.6" x2="143.04999999999998" y2="196.2" stroke="#505050" stroke-width="0.6" />
<line x1="144.2" y1="192.6" x2="144.2" y2="196.2" stroke="#505050" stroke-width="0.6" />
<line x1="145.35" y1="192.6" x2="145.35" y2="196.2" stroke="#505050" stroke-width="0.6" />
<line x1="146.5" y1="192.6" x2="146.5" y2="196.2" stroke="#505050" stroke-width="0.6" />
<line x1="147.65" y1="192.6" x2="147.65" y2="196.2" stroke="#505050" stroke-width="0.6" />
<line x1="148.79999999999998" y1="192.6" x2="148.79999999999998" y2="196.2" stroke="#505050" stroke-width="0.6" />
<line x1="149.95" y1="192.6" x2="149.95" y2="196.2" stroke="#505050" stroke-width="0.6" />
<line x1="151.1" y1="192.6" x2="151.1" y2="196.2" stroke="#505050" stroke-width="0.6" />
<line x1="152.25" y1="192.6" x2="152.25" y2="196.2" stroke="#505050" stroke-width="0.6" />
<line x1="153.4" y1="192.6" x2="153.4" y2="196.2" stroke="#505050" stroke-width="0.6" />
<line x1="154.54999999999998" y1="192.6" x2="154.54999999999998" y2="196.2" stroke="#505050" stroke-width="0.6" />
<line x1="155.7" y1="192.6" x2="155.7" y2="196.2" stroke="#505050" stroke-width="0.6" />
<line x1="156.85" y1="192.6" x2="156.85" y2="196.2" stroke="#505050" stroke-width="0.6" />
<line x1="158.0" y1="192.6" x2="158.0" y2="196.2" stroke="#505050" stroke-width="0.6" />
<line x1="160" y1="192.6" x2="160" y2="196.2" stroke="#666" stroke-width="0.5674769657699794" />
<line x1="162" y1="192.6" x2="162" y2="196.2" stroke="#666" stroke-width="0.48693206877097533" />
<line x1="164" y1="192.6" x2="164" y2="196.2" stroke="#666" stroke-width="0.5523817278083611" />
<line x1="166" y1="192.6" x2="166" y2="196.2" stroke="#666" stroke-width="0.5759765440433604" />
<line x1="193.8" y1="192.6" x2="193.8" y2="196.2" stroke="#666" stroke-width="0.6085953745039905" />
<line x1="195.6" y1="192.6" x2="195.6" y2="196.2" stroke="#666" stroke-width="0.4688246912458437" />
<line x1="197.9" y1="192.6" x2="197.9" y2="196.2" stroke="#666" stroke-width="0.5106802525249051" />
<line x1="199" y1="192.6" x2="199" y2="196.2" stroke="#666" stroke-width="0.46813410749836787" />
<line x1="200.8" y1="192.6" x2="200.8" y2="196.2" stroke="#666" stroke-width="0.6119289068734355" />
<line x1="203" y1="192.6" x2="203" y2="196.2" stroke="#666" stroke-width="0.5886876965082478" />
<line x1="204.8" y1="192.6" x2="204.8" y2="196.2" stroke="#666" stroke-width="0.45837606727396923" />
<line x1="207.1" y1="192.6" x2="207.1" y2="196.2" stroke="#666" stroke-width="0.6464386841597557" />
<line x1="208.8" y1="192.6" x2="208.8" y2="196.2" stroke="#666" stroke-width="0.6429515562251134" />
<line x1="211.1" y1="192.6" x2="211.1" y2="196.2" stroke="#666" stroke-width="0.5807845067067681" />
<line x1="213.4" y1="192.6" x2="213.4" y2="196.2" stroke="#505050" stroke-width="0.6" />
<line x1="214.6" y1="192.6" x2="214.6" y2="196.2" stroke="#505050" stroke-width="0.6" />
<line x1="215.8" y1="192.6" x2="215.8" y2="196.2" stroke="#505050" stroke-width="0.6" />
<line x1="217" y1="192.6" x2="217" y2="196.2" stroke="#505050" stroke-width="0.6" />
<line x1="228.4" y1="192.6" x2="228.4" y2="196.2" stroke="#666" stroke-width="0.5731125409157142" />
<line x1="231.3" y1="192.6" x2="231.3" y2="196.2" stroke="#666" stroke-width="0.4814988190280325" />
<line x1="233" y1="192.6" x2="233" y2="196.2" stroke="#666" stroke-width="0.453000147389921" />
<line x1="202.3" y1="180" x2="202.3" y2="199" stroke="#c8c8c8" stroke-width="0.6" />
<defs><pattern id="hp" patternUnits="userSpaceOnUse" width="2.8" height="2.8"><rect width="2.8" height="2.8" fill="#fff"/><path d="M-1,-1 L3.8,3.8 M-1,1.8 L1,3.8 M1.8,-1 L3.8,1" stroke="#1a1a1a" stroke-width="0.95"/></pattern></defs>
<text x="267.6" y="9.1" font-size="10.6" font-weight="bold" text-anchor="start" fill="#000"  style="">B</text>
<line x1="323.1" y1="11.2" x2="323.1" y2="95.9" stroke="#111" stroke-width="1.2" />
<line x1="321.0" y1="95.4" x2="323.1" y2="95.4" stroke="#111" stroke-width="0.9" />
<text x="316.4" y="97.5" font-size="6.3" font-weight="bold" text-anchor="end" fill="#111"  style="">0</text>
<line x1="321.0" y1="84.88125000000001" x2="323.1" y2="84.88125000000001" stroke="#111" stroke-width="0.9" />
<text x="316.4" y="86.98125" font-size="6.3" font-weight="bold" text-anchor="end" fill="#111"  style="">5</text>
<line x1="321.0" y1="74.36250000000001" x2="323.1" y2="74.36250000000001" stroke="#111" stroke-width="0.9" />
<text x="316.4" y="76.4625" font-size="6.3" font-weight="bold" text-anchor="end" fill="#111"  style="">10</text>
<line x1="321.0" y1="63.84375" x2="323.1" y2="63.84375" stroke="#111" stroke-width="0.9" />
<text x="316.4" y="65.94375" font-size="6.3" font-weight="bold" text-anchor="end" fill="#111"  style="">15</text>
<line x1="321.0" y1="53.325" x2="323.1" y2="53.325" stroke="#111" stroke-width="0.9" />
<text x="316.4" y="55.425000000000004" font-size="6.3" font-weight="bold" text-anchor="end" fill="#111"  style="">20</text>
<line x1="321.0" y1="42.80625" x2="323.1" y2="42.80625" stroke="#111" stroke-width="0.9" />
<text x="316.4" y="44.90625" font-size="6.3" font-weight="bold" text-anchor="end" fill="#111"  style="">25</text>
<line x1="321.0" y1="32.2875" x2="323.1" y2="32.2875" stroke="#111" stroke-width="0.9" />
<text x="316.4" y="34.3875" font-size="6.3" font-weight="bold" text-anchor="end" fill="#111"  style="">30</text>
<line x1="321.0" y1="21.768749999999997" x2="323.1" y2="21.768749999999997" stroke="#111" stroke-width="0.9" />
<text x="316.4" y="23.86875" font-size="6.3" font-weight="bold" text-anchor="end" fill="#111"  style="">35</text>
<line x1="321.0" y1="11.25" x2="323.1" y2="11.25" stroke="#111" stroke-width="0.9" />
<text x="316.4" y="13.35" font-size="6.3" font-weight="bold" text-anchor="end" fill="#111"  style="">40</text>
<line x1="322.5" y1="95.4" x2="437.5" y2="95.4" stroke="#111" stroke-width="1.1" />
<line x1="361.3" y1="95.4" x2="361.3" y2="97.2" stroke="#111" stroke-width="0.9" />
<line x1="399.4" y1="95.4" x2="399.4" y2="97.2" stroke="#111" stroke-width="0.9" />
<line x1="437.5" y1="95.4" x2="437.5" y2="97.2" stroke="#111" stroke-width="0.9" />
<line x1="332.05" y1="46.9" x2="332.05" y2="52.25" stroke="#222" stroke-width="0.9" />
<rect x="328.25" y="52.25" width="7.600000000000023" height="43.150000000000006" fill="#333" stroke="#111" stroke-width="1.05" />
<line x1="342.20000000000005" y1="39" x2="342.20000000000005" y2="44.75" stroke="#222" stroke-width="0.9" />
<rect x="338.25" y="44.75" width="7.900000000000034" height="50.650000000000006" fill="url(#hp)" stroke="#111" stroke-width="1.05" />
<line x1="352.54999999999995" y1="35.6" x2="352.54999999999995" y2="41.25" stroke="#222" stroke-width="0.9" />
<rect x="348.65" y="41.25" width="7.800000000000011" height="54.150000000000006" fill="#fff" stroke="#111" stroke-width="1.05" />
<line x1="370.15" y1="26.5" x2="370.15" y2="35.4" stroke="#222" stroke-width="0.9" />
<rect x="366.34999999999997" y="35.4" width="7.600000000000023" height="60.00000000000001" fill="#333" stroke="#111" stroke-width="1.05" />
<line x1="380.35" y1="23.75" x2="380.35" y2="33.1" stroke="#222" stroke-width="0.9" />
<rect x="376.45" y="33.1" width="7.800000000000011" height="62.300000000000004" fill="url(#hp)" stroke="#111" stroke-width="1.05" />
<line x1="390.35" y1="19" x2="390.35" y2="33.1" stroke="#222" stroke-width="0.9" />
<rect x="386.45" y="33.1" width="7.800000000000011" height="62.300000000000004" fill="#fff" stroke="#111" stroke-width="1.05" />
<line x1="408.29999999999995" y1="38.1" x2="408.29999999999995" y2="47.5" stroke="#222" stroke-width="0.9" />
<rect x="404.54999999999995" y="47.5" width="7.500000000000057" height="47.900000000000006" fill="#333" stroke="#111" stroke-width="1.05" />
<line x1="418.29999999999995" y1="24.75" x2="418.29999999999995" y2="36.25" stroke="#222" stroke-width="0.9" />
<rect x="414.54999999999995" y="36.25" width="7.500000000000057" height="59.150000000000006" fill="url(#hp)" stroke="#111" stroke-width="1.05" />
<line x1="428.4" y1="16" x2="428.4" y2="32.5" stroke="#222" stroke-width="0.9" />
<rect x="424.54999999999995" y="32.5" width="7.7000000000000455" height="62.900000000000006" fill="#fff" stroke="#111" stroke-width="1.05" />
<line x1="331.9" y1="32.5" x2="351.9" y2="32.5" stroke="#222" stroke-width="1" />
<polyline points="341.9,32.5 341.9,3.8 362,3.8" fill="none" stroke="#222" stroke-width="1"/>
<line x1="369.4" y1="16.25" x2="389.4" y2="16.25" stroke="#222" stroke-width="1" />
<line x1="379.4" y1="16.25" x2="379.4" y2="8.1" stroke="#222" stroke-width="1" />
<polyline points="396.3,3.8 416.9,3.8 416.9,12.3" fill="none" stroke="#222" stroke-width="1"/>
<line x1="406.3" y1="12.3" x2="426.3" y2="12.3" stroke="#222" stroke-width="1" />
<text x="365" y="6.5" font-size="7.5" font-weight="bold" fill="#111" textLength="29" lengthAdjust="spacingAndGlyphs"><tspan font-style="italic">P</tspan> = .004</text>
<text x="335.6" y="105.8" font-size="7.0" font-weight="bold" fill="#111">10<tspan font-size="4.20" dx="0.9" dy="-2.2">-7</tspan></text>
<text x="372.5" y="105.8" font-size="7.0" font-weight="bold" fill="#111">10<tspan font-size="4.20" dx="0.9" dy="-2.2">-6</tspan></text>
<text x="411.3" y="105.8" font-size="7.0" font-weight="bold" fill="#111">10<tspan font-size="4.20" dx="0.9" dy="-2.2">-5</tspan></text>
<text x="382.2" y="114.2" font-size="7.1" font-weight="bold" text-anchor="middle" fill="#111" textLength="28.1" lengthAdjust="spacingAndGlyphs"  style="">ADP (M)</text>
<text transform="translate(292.4,51) rotate(-90)" font-size="8.6" font-weight="bold" text-anchor="middle" fill="#111" textLength="71.8" lengthAdjust="spacingAndGlyphs">Calcium flux (Em<tspan font-size="5" dy="-3.4">538</tspan><tspan dy="3.4">)</tspan></text>
<text transform="translate(301.8,51.7) rotate(-90)" font-size="8.6" font-weight="bold" text-anchor="middle" fill="#111" textLength="76" lengthAdjust="spacingAndGlyphs">Area under the curve</text>
<line x1="462.2" y1="11" x2="462.2" y2="95.7" stroke="#111" stroke-width="1.2" />
<line x1="460" y1="95.2" x2="462" y2="95.2" stroke="#111" stroke-width="0.9" />
<text x="455" y="97.3" font-size="6.3" font-weight="bold" text-anchor="end" fill="#111"  style="">0</text>
<line x1="460" y1="81.16666666666667" x2="462" y2="81.16666666666667" stroke="#111" stroke-width="0.9" />
<text x="455" y="83.26666666666667" font-size="6.3" font-weight="bold" text-anchor="end" fill="#111"  style="">50</text>
<line x1="460" y1="67.13333333333334" x2="462" y2="67.13333333333334" stroke="#111" stroke-width="0.9" />
<text x="455" y="69.23333333333333" font-size="6.3" font-weight="bold" text-anchor="end" fill="#111"  style="">100</text>
<line x1="460" y1="53.1" x2="462" y2="53.1" stroke="#111" stroke-width="0.9" />
<text x="455" y="55.2" font-size="6.3" font-weight="bold" text-anchor="end" fill="#111"  style="">150</text>
<line x1="460" y1="39.06666666666667" x2="462" y2="39.06666666666667" stroke="#111" stroke-width="0.9" />
<text x="455" y="41.16666666666667" font-size="6.3" font-weight="bold" text-anchor="end" fill="#111"  style="">200</text>
<line x1="460" y1="25.03333333333333" x2="462" y2="25.03333333333333" stroke="#111" stroke-width="0.9" />
<text x="455" y="27.133333333333333" font-size="6.3" font-weight="bold" text-anchor="end" fill="#111"  style="">250</text>
<line x1="460" y1="11.0" x2="462" y2="11.0" stroke="#111" stroke-width="0.9" />
<text x="455" y="13.1" font-size="6.3" font-weight="bold" text-anchor="end" fill="#111"  style="">300</text>
<line x1="460" y1="95.2" x2="494.8" y2="95.2" stroke="#111" stroke-width="1" />
<line x1="467.20000000000005" y1="51.25" x2="467.20000000000005" y2="56.25" stroke="#222" stroke-width="0.9" />
<rect x="463.25" y="56.25" width="7.900000000000034" height="38.95" fill="#333" stroke="#111" stroke-width="1.05" />
<line x1="477.9" y1="23.5" x2="477.9" y2="37.25" stroke="#222" stroke-width="0.9" />
<rect x="473.45" y="37.25" width="8.900000000000034" height="57.95" fill="url(#hp)" stroke="#111" stroke-width="1.05" />
<line x1="488.79999999999995" y1="45" x2="488.79999999999995" y2="49.4" stroke="#222" stroke-width="0.9" />
<rect x="484.54999999999995" y="49.4" width="8.500000000000057" height="45.800000000000004" fill="#fff" stroke="#111" stroke-width="1.05" />
<text x="464.6" y="105.8" font-size="7.0" font-weight="normal" text-anchor="start" fill="#111" textLength="25.4" lengthAdjust="spacingAndGlyphs" stroke="#111" stroke-width="0.3" style="">5μg/mL</text>
<text x="464.6" y="113.6" font-size="6.7" font-weight="normal" text-anchor="start" fill="#111" textLength="23.6" lengthAdjust="spacingAndGlyphs" stroke="#111" stroke-width="0.3" style="">CRP-XL</text>
<text x="267.4" y="128.6" font-size="10.6" font-weight="bold" text-anchor="start" fill="#000"  style="">C</text>
<line x1="323.6" y1="123.1" x2="323.6" y2="207.5" stroke="#111" stroke-width="1.2" />
<line x1="321.5" y1="207.0" x2="323.5" y2="207.0" stroke="#111" stroke-width="0.9" />
<text x="316.6" y="209.1" font-size="6.3" font-weight="bold" text-anchor="end" fill="#111"  style="">0</text>
<line x1="321.5" y1="182.95" x2="323.5" y2="182.95" stroke="#111" stroke-width="0.9" />
<text x="316.6" y="185.04999999999998" font-size="6.3" font-weight="bold" text-anchor="end" fill="#111"  style="">1</text>
<line x1="321.5" y1="158.9" x2="323.5" y2="158.9" stroke="#111" stroke-width="0.9" />
<text x="316.6" y="161.0" font-size="6.3" font-weight="bold" text-anchor="end" fill="#111"  style="">2</text>
<line x1="321.5" y1="134.85" x2="323.5" y2="134.85" stroke="#111" stroke-width="0.9" />
<text x="316.6" y="136.95" font-size="6.3" font-weight="bold" text-anchor="end" fill="#111"  style="">3</text>
<line x1="322.5" y1="207.0" x2="439.5" y2="207.0" stroke="#111" stroke-width="1" />
<line x1="361.9" y1="207.0" x2="361.9" y2="208.8" stroke="#111" stroke-width="0.9" />
<line x1="401.25" y1="207.0" x2="401.25" y2="208.8" stroke="#111" stroke-width="0.9" />
<line x1="439.5" y1="207.0" x2="439.5" y2="208.8" stroke="#111" stroke-width="0.9" />
<line x1="332.54999999999995" y1="148.75" x2="332.54999999999995" y2="155.25" stroke="#222" stroke-width="0.9" />
<rect x="328.65" y="155.25" width="7.800000000000011" height="51.75" fill="#333" stroke="#111" stroke-width="1.05" />
<line x1="343.04999999999995" y1="139.4" x2="343.04999999999995" y2="148.1" stroke="#222" stroke-width="0.9" />
<rect x="338.84999999999997" y="148.1" width="8.400000000000034" height="58.900000000000006" fill="url(#hp)" stroke="#111" stroke-width="1.05" />
<line x1="353.4" y1="134.4" x2="353.4" y2="145.4" stroke="#222" stroke-width="0.9" />
<rect x="349.54999999999995" y="145.4" width="7.7000000000000455" height="61.599999999999994" fill="#fff" stroke="#111" stroke-width="1.05" />
<line x1="371.7" y1="177.5" x2="371.7" y2="180" stroke="#222" stroke-width="0.9" />
<rect x="367.84999999999997" y="180" width="7.7000000000000455" height="27.0" fill="#333" stroke="#111" stroke-width="1.05" />
<line x1="381.7" y1="171" x2="381.7" y2="177.5" stroke="#222" stroke-width="0.9" />
<rect x="377.34999999999997" y="177.5" width="8.700000000000045" height="29.5" fill="url(#hp)" stroke="#111" stroke-width="1.05" />
<line x1="392.20000000000005" y1="169.4" x2="392.20000000000005" y2="177.5" stroke="#222" stroke-width="0.9" />
<rect x="388.25" y="177.5" width="7.900000000000034" height="29.5" fill="#fff" stroke="#111" stroke-width="1.05" />
<line x1="410.29999999999995" y1="189.4" x2="410.29999999999995" y2="191.25" stroke="#222" stroke-width="0.9" />
<rect x="406.34999999999997" y="191.25" width="7.900000000000034" height="15.75" fill="#333" stroke="#111" stroke-width="1.05" />
<line x1="420.45" y1="189" x2="420.45" y2="190.25" stroke="#222" stroke-width="0.9" />
<rect x="416.34999999999997" y="190.25" width="8.200000000000045" height="16.75" fill="url(#hp)" stroke="#111" stroke-width="1.05" />
<line x1="431.45" y1="181.25" x2="431.45" y2="189.4" stroke="#222" stroke-width="0.9" />
<rect x="427.34999999999997" y="189.4" width="8.200000000000045" height="17.599999999999994" fill="#fff" stroke="#111" stroke-width="1.05" />
<line x1="331.9" y1="132.3" x2="351.9" y2="132.3" stroke="#222" stroke-width="1" />
<polyline points="341.9,132.3 341.9,128.5 364,128.5" fill="none" stroke="#222" stroke-width="1"/>
<polyline points="398.1,128.5 421,128.5 421,173.75" fill="none" stroke="#222" stroke-width="1"/>
<line x1="410.6" y1="173.75" x2="430.6" y2="173.75" stroke="#222" stroke-width="1" />
<line x1="381.25" y1="136.9" x2="381.25" y2="165.6" stroke="#222" stroke-width="1" />
<line x1="371.25" y1="165.6" x2="391.9" y2="165.6" stroke="#222" stroke-width="1" />
<text x="366.8" y="131.9" font-size="7.5" font-weight="bold" fill="#111" textLength="28.8" lengthAdjust="spacingAndGlyphs"><tspan font-style="italic">P</tspan> = .013</text>
<text x="336.2" y="214.6" font-size="7.0" font-weight="bold" fill="#111">10<tspan font-size="4.20" dx="0.9" dy="-2.2">-7</tspan></text>
<text x="373.5" y="214.6" font-size="7.0" font-weight="bold" fill="#111">10<tspan font-size="4.20" dx="0.9" dy="-2.2">-6</tspan></text>
<text x="411.9" y="214.6" font-size="7.0" font-weight="bold" fill="#111">10<tspan font-size="4.20" dx="0.9" dy="-2.2">-5</tspan></text>
<text x="383.3" y="223.7" font-size="7.1" font-weight="bold" text-anchor="middle" fill="#111" textLength="27.9" lengthAdjust="spacingAndGlyphs"  style="">ADP (M)</text>
<text transform="translate(290.6,167) rotate(-90)" font-size="8.4" font-weight="bold" text-anchor="middle" fill="#111" textLength="43.6" lengthAdjust="spacingAndGlyphs">Time to peak</text>
<text transform="translate(300.6,164.6) rotate(-90)" font-size="8.4" font-weight="bold" text-anchor="middle" fill="#111" textLength="61.2" lengthAdjust="spacingAndGlyphs">Calcium flux (sec)</text>
<line x1="462.6" y1="123.1" x2="462.6" y2="207.3" stroke="#111" stroke-width="1.2" />
<line x1="460.5" y1="206.8" x2="462.5" y2="206.8" stroke="#111" stroke-width="0.9" />
<text x="455.6" y="208.9" font-size="6.3" font-weight="bold" text-anchor="end" fill="#111"  style="">0</text>
<line x1="460.5" y1="186.05" x2="462.5" y2="186.05" stroke="#111" stroke-width="0.9" />
<text x="455.6" y="188.15" font-size="6.3" font-weight="bold" text-anchor="end" fill="#111"  style="">50</text>
<line x1="460.5" y1="165.3" x2="462.5" y2="165.3" stroke="#111" stroke-width="0.9" />
<text x="455.6" y="167.4" font-size="6.3" font-weight="bold" text-anchor="end" fill="#111"  style="">100</text>
<line x1="460.5" y1="144.55" x2="462.5" y2="144.55" stroke="#111" stroke-width="0.9" />
<text x="455.6" y="146.65" font-size="6.3" font-weight="bold" text-anchor="end" fill="#111"  style="">150</text>
<line x1="460.5" y1="123.80000000000001" x2="462.5" y2="123.80000000000001" stroke="#111" stroke-width="0.9" />
<text x="455.6" y="125.9" font-size="6.3" font-weight="bold" text-anchor="end" fill="#111"  style="">200</text>
<line x1="461" y1="206.8" x2="495.7" y2="206.8" stroke="#111" stroke-width="1" />
<line x1="468.04999999999995" y1="127.5" x2="468.04999999999995" y2="151.9" stroke="#222" stroke-width="0.9" />
<rect x="463.84999999999997" y="151.9" width="8.400000000000034" height="54.900000000000006" fill="#333" stroke="#111" stroke-width="1.05" />
<line x1="479.15" y1="129.75" x2="479.15" y2="153.1" stroke="#222" stroke-width="0.9" />
<rect x="474.15" y="153.1" width="10.000000000000057" height="53.70000000000002" fill="url(#hp)" stroke="#111" stroke-width="1.05" />
<line x1="490.15" y1="139.4" x2="490.15" y2="164.4" stroke="#222" stroke-width="0.9" />
<rect x="485.75" y="164.4" width="8.800000000000011" height="42.400000000000006" fill="#fff" stroke="#111" stroke-width="1.05" />
<text x="465.5" y="214.8" font-size="7.0" font-weight="normal" text-anchor="start" fill="#111" textLength="25.9" lengthAdjust="spacingAndGlyphs" stroke="#111" stroke-width="0.3" style="">5μg/mL</text>
<text x="466.3" y="222.9" font-size="6.7" font-weight="normal" text-anchor="start" fill="#111" textLength="22.5" lengthAdjust="spacingAndGlyphs" stroke="#111" stroke-width="0.3" style="">CRP-XL</text>
<text x="267.0" y="242.2" font-size="11.2" font-weight="bold" text-anchor="start" fill="#000"  style="">D</text>
<rect x="290.6" y="233.9" width="93.4" height="92.6" fill="none" stroke="#8a8a8a" stroke-width="0.8" />
<line x1="289.2" y1="234.3" x2="290.6" y2="234.3" stroke="#777" stroke-width="0.6" />
<text x="286.2" y="236.9" font-size="4.5" font-weight="normal" text-anchor="end" fill="#222" stroke="#222" stroke-width="0.15" style="">120</text>
<line x1="289.2" y1="257.6" x2="290.6" y2="257.6" stroke="#777" stroke-width="0.6" />
<text x="286.2" y="259.8" font-size="4.5" font-weight="normal" text-anchor="end" fill="#222" stroke="#222" stroke-width="0.15" style="">90</text>
<line x1="289.2" y1="280.9" x2="290.6" y2="280.9" stroke="#777" stroke-width="0.6" />
<text x="286.2" y="282.70000000000005" font-size="4.5" font-weight="normal" text-anchor="end" fill="#222" stroke="#222" stroke-width="0.15" style="">60</text>
<line x1="289.2" y1="304.0" x2="290.6" y2="304.0" stroke="#777" stroke-width="0.6" />
<text x="286.2" y="305.6" font-size="4.5" font-weight="normal" text-anchor="end" fill="#222" stroke="#222" stroke-width="0.15" style="">30</text>
<line x1="289.2" y1="326.3" x2="290.6" y2="326.3" stroke="#777" stroke-width="0.6" />
<text x="286.2" y="328.20000000000005" font-size="4.5" font-weight="normal" text-anchor="end" fill="#222" stroke="#222" stroke-width="0.15" style="">0</text>
<text transform="translate(271.6,280.2) rotate(-90)" font-size="4.5" text-anchor="middle" fill="#222" stroke="#222" stroke-width="0.15" textLength="12.6" lengthAdjust="spacingAndGlyphs">Events</text>
<path d="M291,326.3 L298,326.2 L301,325.6 L303,324.2 L305,320.5 L307,313 L309,303 L310.5,295 L311.5,288 L312.7,270 L313.8,258 L315,250 L316.7,241.5 L318,246 L319,250 L320.5,260 L322,270 L323.5,280 L324.8,290 L325.8,297 L327.5,305 L329.5,313 L331.3,320 L333,323.8 L335,325.8 L340,326.3 L384,326.3 Z" fill="#e4e4e4" stroke="none"/>
<path d="M291,326.3 L298,326.2 L301,325.6 L303,324.2 L305,320.5 L307,313 L309,303 L310.5,295 L311.5,288 L312.7,270 L313.8,258 L315,250 L316.7,241.5 L318,246 L319,250 L320.5,260 L322,270 L323.5,280 L324.8,290 L325.8,297 L327.5,305 L329.5,313 L331.3,320 L333,323.8 L335,325.8 L340,326.3 L384,326.3" fill="none" stroke="#3a3a3a" stroke-width="1"/>
<path d="M296,326.3 L302,326 L304.5,324 L306.8,320 L308.5,313 L310,305 L311.5,297 L313.3,290 L314.4,270 L315.5,256 L316.7,248 L318,256 L319.6,270 L320.5,280 L321.4,290 L322.9,296 L324.5,303 L326.5,312 L328.3,320 L330.5,324.5 L333,326 L340,326.3" fill="none" stroke="#2a2a2a" stroke-width="1" stroke-dasharray="2.6,1.3"/>
<path d="M336,326 L345,325.6 L350,326 L355,325.2 L360,325.8 L365,324.8 L370,325.6 L375,324.6 L379,325.5 L384,325.8" stroke="#444" stroke-width="0.7" fill="none"/>
<text x="291.5" y="336.5" font-size="4.6" text-anchor="middle" fill="#222" stroke="#222" stroke-width="0.12">10<tspan font-size="3.1" dy="-1.8">0</tspan></text>
<line x1="292.1" y1="326.6" x2="292.1" y2="328.0" stroke="#777" stroke-width="0.5" />
<text x="313.7" y="336.5" font-size="4.6" text-anchor="middle" fill="#222" stroke="#222" stroke-width="0.12">10<tspan font-size="3.1" dy="-1.8">1</tspan></text>
<line x1="314.3" y1="326.6" x2="314.3" y2="328.0" stroke="#777" stroke-width="0.5" />
<text x="337.3" y="336.5" font-size="4.6" text-anchor="middle" fill="#222" stroke="#222" stroke-width="0.12">10<tspan font-size="3.1" dy="-1.8">2</tspan></text>
<line x1="337.90000000000003" y1="326.6" x2="337.90000000000003" y2="328.0" stroke="#777" stroke-width="0.5" />
<text x="359.8" y="336.5" font-size="4.6" text-anchor="middle" fill="#222" stroke="#222" stroke-width="0.12">10<tspan font-size="3.1" dy="-1.8">3</tspan></text>
<line x1="360.40000000000003" y1="326.6" x2="360.40000000000003" y2="328.0" stroke="#777" stroke-width="0.5" />
<text x="326.5" y="342.8" font-size="4.1" font-weight="normal" text-anchor="middle" fill="#333" textLength="57" lengthAdjust="spacingAndGlyphs"  style="">FITC-ITPR1 antibody binding</text>
<text x="392.2" y="242.2" font-size="11.2" font-weight="bold" text-anchor="start" fill="#000"  style="">E</text>
<line x1="405.8" y1="257.3" x2="405.8" y2="315.4" stroke="#333" stroke-width="1" />
<line x1="404.3" y1="315.4" x2="405.8" y2="315.4" stroke="#444" stroke-width="0.8" />
<text x="403.4" y="317.29999999999995" font-size="5.2" font-weight="bold" text-anchor="end" fill="#333"  style="">0</text>
<line x1="404.3" y1="296.09999999999997" x2="405.8" y2="296.09999999999997" stroke="#444" stroke-width="0.8" />
<text x="403.4" y="297.99999999999994" font-size="5.2" font-weight="bold" text-anchor="end" fill="#333"  style="">5</text>
<line x1="404.3" y1="276.8" x2="405.8" y2="276.8" stroke="#444" stroke-width="0.8" />
<text x="403.4" y="278.7" font-size="5.2" font-weight="bold" text-anchor="end" fill="#333"  style="">10</text>
<line x1="404.3" y1="257.5" x2="405.8" y2="257.5" stroke="#444" stroke-width="0.8" />
<text x="403.4" y="259.4" font-size="5.2" font-weight="bold" text-anchor="end" fill="#333"  style="">15</text>
<line x1="405.8" y1="315.4" x2="518.6" y2="315.4" stroke="#333" stroke-width="1" />
<line x1="426.2" y1="315.4" x2="426.2" y2="316.59999999999997" stroke="#444" stroke-width="0.7" />
<line x1="463" y1="315.4" x2="463" y2="316.59999999999997" stroke="#444" stroke-width="0.7" />
<line x1="500.4" y1="315.4" x2="500.4" y2="316.59999999999997" stroke="#444" stroke-width="0.7" />
<text transform="translate(396.2,282.2) rotate(-90)" font-size="4.8" font-weight="bold" text-anchor="middle" fill="#444">MFI</text>
<text x="426.2" y="322.6" font-size="4.6" font-weight="bold" text-anchor="middle" fill="#333"  style="">CC</text>
<text x="463" y="322.6" font-size="4.6" font-weight="bold" text-anchor="middle" fill="#333"  style="">CT</text>
<text x="500.4" y="322.6" font-size="4.6" font-weight="bold" text-anchor="middle" fill="#333"  style="">TT</text>
<line x1="412.2" y1="281.25" x2="437.8" y2="281.25" stroke="#333" stroke-width="1.0" />
<line x1="450.2" y1="272.5" x2="475.5" y2="272.5" stroke="#333" stroke-width="1.0" />
<line x1="488.2" y1="281.1" x2="513.5" y2="281.1" stroke="#333" stroke-width="1.0" />
<circle cx="417.9" cy="274.4" r="1.2" fill="#111" />
<circle cx="421.25" cy="275.6" r="1.2" fill="#111" />
<circle cx="425" cy="277.25" r="1.2" fill="#111" />
<circle cx="428.5" cy="275.6" r="1.2" fill="#111" />
<circle cx="417.9" cy="282.25" r="1.2" fill="#111" />
<circle cx="421.25" cy="284" r="1.2" fill="#111" />
<circle cx="425" cy="281.5" r="1.2" fill="#111" />
<circle cx="428.1" cy="283.1" r="1.2" fill="#111" />
<circle cx="425" cy="285.6" r="1.2" fill="#111" />
<circle cx="425" cy="291" r="1.2" fill="#111" />
<circle cx="462.5" cy="258.75" r="1.2" fill="#111" />
<circle cx="462.5" cy="265.9" r="1.2" fill="#111" />
<circle cx="459" cy="274" r="1.2" fill="#111" />
<circle cx="462.5" cy="274" r="1.2" fill="#111" />
<circle cx="459" cy="276.5" r="1.2" fill="#111" />
<circle cx="462.5" cy="280" r="1.2" fill="#111" />
<circle cx="466" cy="280" r="1.2" fill="#111" />
<circle cx="500.4" cy="273.2" r="1.2" fill="#111" />
<circle cx="500.4" cy="280.6" r="1.2" fill="#111" />
<circle cx="500.4" cy="285.7" r="1.2" fill="#111" />
<circle cx="504" cy="284.7" r="1.2" fill="#111" />
</svg>
</body></html>
